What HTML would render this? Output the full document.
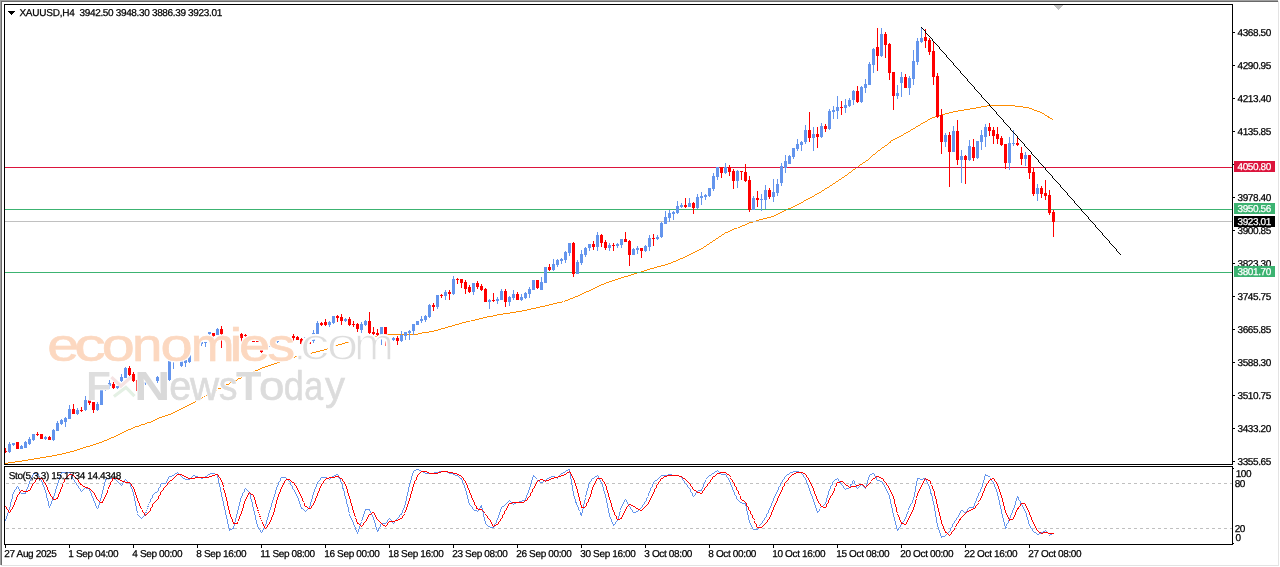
<!DOCTYPE html>
<html><head><meta charset="utf-8"><title>XAUUSD,H4</title>
<style>
html,body{margin:0;padding:0;background:#fff;}
body{width:1280px;height:567px;position:relative;overflow:hidden;font-family:"Liberation Sans",sans-serif;}
svg{position:absolute;left:0;top:0;}
.t{position:absolute;-webkit-text-stroke:0.25px #000;text-rendering:geometricPrecision;font-size:10px;line-height:11px;color:#000;white-space:pre;letter-spacing:-0.4px;}
.pl{position:absolute;-webkit-text-stroke:0.25px #fff;text-rendering:geometricPrecision;left:1234px;width:41px;height:11px;color:#fff;font-size:10px;line-height:11px;letter-spacing:-0.4px;white-space:pre;}
.pl span{position:absolute;left:3.5px;top:1px;}
.wm{position:absolute;white-space:pre;}
</style></head><body>

<svg width="1280" height="567" viewBox="0 0 1280 567" shape-rendering="crispEdges">
<rect x="0" y="0" width="1278" height="1" fill="#a0a0a0"/>
<rect x="0" y="0" width="1" height="565" fill="#a0a0a0"/>
<rect x="1" y="1" width="1277" height="1" fill="#696969"/>
<rect x="1" y="1" width="1" height="564" fill="#696969"/>
<rect x="1278" y="1" width="1" height="565" fill="#e3e3e3"/>
<rect x="1" y="565" width="1278" height="1" fill="#e3e3e3"/>
<rect x="4" y="4" width="1229" height="1" fill="#000"/>
<rect x="4" y="464" width="1229" height="1" fill="#000"/>
<rect x="4" y="4" width="1" height="461" fill="#000"/>
<rect x="1232" y="4" width="1" height="461" fill="#000"/>
<rect x="4" y="466" width="1229" height="1" fill="#000"/>
<rect x="4" y="544" width="1229" height="1" fill="#000"/>
<rect x="4" y="466" width="1" height="79" fill="#000"/>
<rect x="1232" y="466" width="1" height="79" fill="#000"/>
<rect x="1054" y="5" width="9" height="1" fill="#c0c0c0"/>
<rect x="1055" y="6" width="7" height="1" fill="#c0c0c0"/>
<rect x="1056" y="7" width="5" height="1" fill="#c0c0c0"/>
<rect x="1057" y="8" width="3" height="1" fill="#c0c0c0"/>
<rect x="1058" y="9" width="1" height="1" fill="#c0c0c0"/>
<rect x="1233" y="32" width="2" height="1" fill="#000"/>
<rect x="1233" y="65" width="2" height="1" fill="#000"/>
<rect x="1233" y="98" width="2" height="1" fill="#000"/>
<rect x="1233" y="131" width="2" height="1" fill="#000"/>
<rect x="1233" y="164" width="2" height="1" fill="#000"/>
<rect x="1233" y="197" width="2" height="1" fill="#000"/>
<rect x="1233" y="230" width="2" height="1" fill="#000"/>
<rect x="1233" y="263" width="2" height="1" fill="#000"/>
<rect x="1233" y="296" width="2" height="1" fill="#000"/>
<rect x="1233" y="329" width="2" height="1" fill="#000"/>
<rect x="1233" y="362" width="2" height="1" fill="#000"/>
<rect x="1233" y="395" width="2" height="1" fill="#000"/>
<rect x="1233" y="428" width="2" height="1" fill="#000"/>
<rect x="1233" y="461" width="2" height="1" fill="#000"/>
<rect x="1233" y="468" width="1" height="1" fill="#000"/>
<rect x="1233" y="543" width="1" height="1" fill="#000"/>
<rect x="5" y="545" width="1" height="3" fill="#000"/>
<rect x="69" y="545" width="1" height="3" fill="#000"/>
<rect x="133" y="545" width="1" height="3" fill="#000"/>
<rect x="197" y="545" width="1" height="3" fill="#000"/>
<rect x="261" y="545" width="1" height="3" fill="#000"/>
<rect x="325" y="545" width="1" height="3" fill="#000"/>
<rect x="389" y="545" width="1" height="3" fill="#000"/>
<rect x="453" y="545" width="1" height="3" fill="#000"/>
<rect x="517" y="545" width="1" height="3" fill="#000"/>
<rect x="581" y="545" width="1" height="3" fill="#000"/>
<rect x="645" y="545" width="1" height="3" fill="#000"/>
<rect x="709" y="545" width="1" height="3" fill="#000"/>
<rect x="773" y="545" width="1" height="3" fill="#000"/>
<rect x="837" y="545" width="1" height="3" fill="#000"/>
<rect x="901" y="545" width="1" height="3" fill="#000"/>
<rect x="965" y="545" width="1" height="3" fill="#000"/>
<rect x="1029" y="545" width="1" height="3" fill="#000"/>
<path d="M5 463h1v1h-1zM6 463h1v1h-1zM7 463h1v1h-1zM8 462h1v1h-1zM9 462h1v1h-1zM10 462h1v1h-1zM11 462h1v1h-1zM12 462h1v1h-1zM13 462h1v1h-1zM14 462h1v1h-1zM15 461h1v1h-1zM16 461h1v1h-1zM17 461h1v1h-1zM18 461h1v1h-1zM19 461h1v1h-1zM20 461h1v1h-1zM21 461h1v1h-1zM22 460h1v1h-1zM23 460h1v1h-1zM24 460h1v1h-1zM25 460h1v1h-1zM26 460h1v1h-1zM27 460h1v1h-1zM28 459h1v1h-1zM29 459h1v1h-1zM30 459h1v1h-1zM31 459h1v1h-1zM32 459h1v1h-1zM33 459h1v1h-1zM34 458h1v1h-1zM35 458h1v1h-1zM36 458h1v1h-1zM37 458h1v1h-1zM38 458h1v1h-1zM39 458h1v1h-1zM40 457h1v1h-1zM41 457h1v1h-1zM42 457h1v1h-1zM43 457h1v1h-1zM44 457h1v1h-1zM45 457h1v1h-1zM46 456h1v1h-1zM47 456h1v1h-1zM48 456h1v1h-1zM49 456h1v1h-1zM50 456h1v1h-1zM51 456h1v1h-1zM52 455h1v1h-1zM53 455h1v1h-1zM54 455h1v1h-1zM55 455h1v1h-1zM56 455h1v1h-1zM57 454h1v1h-1zM58 454h1v1h-1zM59 454h1v1h-1zM60 454h1v1h-1zM61 454h1v1h-1zM62 453h1v1h-1zM63 453h1v1h-1zM64 453h1v1h-1zM65 453h1v1h-1zM66 452h1v1h-1zM67 452h1v1h-1zM68 452h1v1h-1zM69 452h1v1h-1zM70 451h1v1h-1zM71 451h1v1h-1zM72 451h1v1h-1zM73 451h1v1h-1zM74 450h1v1h-1zM75 450h1v1h-1zM76 450h1v1h-1zM77 449h1v1h-1zM78 449h1v1h-1zM79 449h1v1h-1zM80 448h1v1h-1zM81 448h1v1h-1zM82 448h1v1h-1zM83 447h1v1h-1zM84 447h1v1h-1zM85 447h1v1h-1zM86 446h1v1h-1zM87 446h1v1h-1zM88 446h1v1h-1zM89 446h1v1h-1zM90 445h1v1h-1zM91 445h1v1h-1zM92 445h1v1h-1zM93 444h1v1h-1zM94 444h1v1h-1zM95 444h1v1h-1zM96 443h1v1h-1zM97 443h1v1h-1zM98 443h1v1h-1zM99 442h1v1h-1zM100 442h1v1h-1zM101 442h1v1h-1zM102 441h1v1h-1zM103 441h1v1h-1zM104 440h1v1h-1zM105 440h1v1h-1zM106 440h1v1h-1zM107 439h1v1h-1zM108 439h1v1h-1zM109 438h1v1h-1zM110 438h1v1h-1zM111 437h1v1h-1zM112 437h1v1h-1zM113 437h1v1h-1zM114 436h1v1h-1zM115 436h1v1h-1zM116 435h1v1h-1zM117 435h1v1h-1zM118 434h1v1h-1zM119 434h1v1h-1zM120 433h1v1h-1zM121 433h1v1h-1zM122 432h1v1h-1zM123 432h1v1h-1zM124 431h1v1h-1zM125 431h1v1h-1zM126 430h1v1h-1zM127 430h1v1h-1zM128 429h1v1h-1zM129 429h1v1h-1zM130 429h1v1h-1zM131 428h1v1h-1zM132 428h1v1h-1zM133 427h1v1h-1zM134 427h1v1h-1zM135 426h1v1h-1zM136 426h1v1h-1zM137 426h1v1h-1zM138 426h1v1h-1zM139 425h1v1h-1zM140 425h1v1h-1zM141 424h1v1h-1zM142 424h1v1h-1zM143 424h1v1h-1zM144 424h1v1h-1zM145 423h1v1h-1zM146 423h1v1h-1zM147 422h1v1h-1zM148 422h1v1h-1zM149 422h1v1h-1zM150 422h1v1h-1zM151 421h1v1h-1zM152 421h1v1h-1zM153 420h1v1h-1zM154 420h1v1h-1zM155 419h1v1h-1zM156 419h1v1h-1zM157 418h1v1h-1zM158 418h1v1h-1zM159 417h1v1h-1zM160 417h1v1h-1zM161 417h1v1h-1zM162 416h1v1h-1zM163 416h1v1h-1zM164 416h1v1h-1zM165 415h1v1h-1zM166 415h1v1h-1zM167 415h1v1h-1zM168 414h1v1h-1zM169 414h1v1h-1zM170 414h1v1h-1zM171 413h1v1h-1zM172 413h1v1h-1zM173 412h1v1h-1zM174 412h1v1h-1zM175 411h1v1h-1zM176 411h1v1h-1zM177 410h1v1h-1zM178 410h1v1h-1zM179 409h1v1h-1zM180 409h1v1h-1zM181 408h1v1h-1zM182 408h1v1h-1zM183 407h1v1h-1zM184 407h1v1h-1zM185 406h1v1h-1zM186 406h1v1h-1zM187 405h1v1h-1zM188 405h1v1h-1zM189 404h1v1h-1zM190 404h1v1h-1zM191 403h1v1h-1zM192 403h1v1h-1zM193 402h1v1h-1zM194 402h1v1h-1zM195 401h1v1h-1zM196 400h1v1h-1zM197 400h1v1h-1zM198 399h1v1h-1zM199 399h1v1h-1zM200 398h1v1h-1zM201 398h1v1h-1zM202 397h1v1h-1zM204 396h1v1h-1zM206 395h1v1h-1zM208 394h1v1h-1zM210 392h1v2h-1zM212 391h1v2h-1zM214 390h1v2h-1zM216 389h1v2h-1zM218 388h1v1h-1zM219 388h1v1h-1zM220 388h1v1h-1zM221 387h1v1h-1zM222 386h1v1h-1zM223 386h1v1h-1zM224 386h1v1h-1zM225 385h1v1h-1zM226 384h1v1h-1zM227 384h1v1h-1zM228 384h1v1h-1zM229 383h1v1h-1zM230 382h1v1h-1zM231 382h1v1h-1zM232 382h1v1h-1zM233 381h1v1h-1zM234 380h1v1h-1zM235 380h1v1h-1zM236 380h1v1h-1zM237 379h1v1h-1zM238 378h1v1h-1zM239 378h1v1h-1zM240 378h1v1h-1zM241 377h1v1h-1zM242 376h1v1h-1zM243 376h1v1h-1zM244 376h1v1h-1zM245 375h1v1h-1zM246 375h1v1h-1zM247 374h1v1h-1zM248 374h1v1h-1zM249 373h1v1h-1zM250 373h1v1h-1zM251 372h1v1h-1zM252 372h1v1h-1zM253 371h1v1h-1zM254 371h1v1h-1zM255 370h1v1h-1zM256 370h1v1h-1zM257 370h1v1h-1zM258 369h1v1h-1zM259 369h1v1h-1zM260 368h1v1h-1zM261 368h1v1h-1zM262 367h1v1h-1zM263 367h1v1h-1zM264 367h1v1h-1zM265 366h1v1h-1zM266 366h1v1h-1zM267 366h1v1h-1zM268 365h1v1h-1zM269 365h1v1h-1zM270 365h1v1h-1zM271 364h1v1h-1zM272 364h1v1h-1zM273 364h1v1h-1zM274 363h1v1h-1zM275 363h1v1h-1zM276 363h1v1h-1zM277 362h1v1h-1zM278 362h1v1h-1zM279 362h1v1h-1zM280 361h1v1h-1zM281 361h1v1h-1zM282 361h1v1h-1zM283 360h1v1h-1zM284 360h1v1h-1zM285 360h1v1h-1zM286 359h1v1h-1zM287 359h1v1h-1zM288 359h1v1h-1zM289 358h1v1h-1zM290 358h1v1h-1zM291 358h1v1h-1zM292 357h1v1h-1zM293 357h1v1h-1zM294 357h1v1h-1zM295 356h1v1h-1zM296 356h1v1h-1zM297 356h1v1h-1zM298 356h1v1h-1zM299 355h1v1h-1zM300 355h1v1h-1zM301 355h1v1h-1zM302 355h1v1h-1zM303 354h1v1h-1zM304 354h1v1h-1zM305 354h1v1h-1zM306 354h1v1h-1zM307 354h1v1h-1zM308 353h1v1h-1zM309 353h1v1h-1zM310 353h1v1h-1zM311 353h1v1h-1zM312 352h1v1h-1zM313 352h1v1h-1zM314 352h1v1h-1zM315 352h1v1h-1zM316 351h1v1h-1zM317 351h1v1h-1zM318 351h1v1h-1zM319 351h1v1h-1zM320 350h1v1h-1zM321 350h1v1h-1zM322 350h1v1h-1zM323 350h1v1h-1zM324 349h1v1h-1zM325 349h1v1h-1zM326 349h1v1h-1zM327 348h1v1h-1zM328 348h1v1h-1zM329 348h1v1h-1zM330 347h1v1h-1zM331 347h1v1h-1zM332 346h1v1h-1zM333 346h1v1h-1zM334 346h1v1h-1zM335 345h1v1h-1zM336 345h1v1h-1zM337 345h1v1h-1zM338 344h1v1h-1zM339 344h1v1h-1zM340 344h1v1h-1zM341 344h1v1h-1zM342 343h1v1h-1zM343 343h1v1h-1zM344 343h1v1h-1zM345 342h1v1h-1zM346 342h1v1h-1zM347 342h1v1h-1zM348 342h1v1h-1zM349 341h1v1h-1zM350 341h1v1h-1zM351 341h1v1h-1zM352 341h1v1h-1zM353 340h1v1h-1zM354 340h1v1h-1zM355 340h1v1h-1zM356 340h1v1h-1zM357 339h1v1h-1zM358 339h1v1h-1zM359 339h1v1h-1zM360 339h1v1h-1zM361 339h1v1h-1zM362 338h1v1h-1zM363 338h1v1h-1zM364 338h1v1h-1zM365 338h1v1h-1zM366 337h1v1h-1zM367 337h1v1h-1zM368 337h1v1h-1zM369 337h1v1h-1zM370 336h1v1h-1zM371 336h1v1h-1zM372 336h1v1h-1zM373 336h1v1h-1zM374 336h1v1h-1zM375 336h1v1h-1zM376 336h1v1h-1zM377 335h1v1h-1zM378 335h1v1h-1zM379 335h1v1h-1zM380 335h1v1h-1zM381 335h1v1h-1zM382 335h1v1h-1zM383 335h1v1h-1zM384 334h1v1h-1zM385 334h1v1h-1zM386 334h1v1h-1zM387 334h1v1h-1zM388 334h1v1h-1zM389 334h1v1h-1zM390 334h1v1h-1zM391 334h1v1h-1zM392 334h1v1h-1zM393 334h1v1h-1zM394 334h1v1h-1zM395 334h1v1h-1zM396 334h1v1h-1zM397 334h1v1h-1zM398 334h1v1h-1zM399 334h1v1h-1zM400 334h1v1h-1zM401 334h1v1h-1zM402 334h1v1h-1zM403 334h1v1h-1zM404 334h1v1h-1zM405 334h1v1h-1zM406 334h1v1h-1zM407 334h1v1h-1zM408 334h1v1h-1zM409 334h1v1h-1zM410 334h1v1h-1zM411 334h1v1h-1zM412 334h1v1h-1zM413 334h1v1h-1zM414 334h1v1h-1zM415 334h1v1h-1zM416 334h1v1h-1zM417 334h1v1h-1zM418 333h1v1h-1zM419 333h1v1h-1zM420 333h1v1h-1zM421 333h1v1h-1zM422 332h1v1h-1zM423 332h1v1h-1zM424 332h1v1h-1zM425 332h1v1h-1zM426 332h1v1h-1zM427 332h1v1h-1zM428 332h1v1h-1zM429 331h1v1h-1zM430 331h1v1h-1zM431 331h1v1h-1zM432 331h1v1h-1zM433 331h1v1h-1zM434 330h1v1h-1zM435 330h1v1h-1zM436 330h1v1h-1zM437 330h1v1h-1zM438 329h1v1h-1zM439 329h1v1h-1zM440 329h1v1h-1zM441 328h1v1h-1zM442 328h1v1h-1zM443 328h1v1h-1zM444 328h1v1h-1zM445 327h1v1h-1zM446 327h1v1h-1zM447 327h1v1h-1zM448 326h1v1h-1zM449 326h1v1h-1zM450 326h1v1h-1zM451 326h1v1h-1zM452 325h1v1h-1zM453 325h1v1h-1zM454 325h1v1h-1zM455 324h1v1h-1zM456 324h1v1h-1zM457 324h1v1h-1zM458 324h1v1h-1zM459 323h1v1h-1zM460 323h1v1h-1zM461 323h1v1h-1zM462 322h1v1h-1zM463 322h1v1h-1zM464 322h1v1h-1zM465 322h1v1h-1zM466 321h1v1h-1zM467 321h1v1h-1zM468 321h1v1h-1zM469 321h1v1h-1zM471 320h1v1h-1zM472 320h1v1h-1zM473 320h1v1h-1zM474 320h1v1h-1zM475 319h1v1h-1zM476 319h1v1h-1zM477 319h1v1h-1zM478 319h1v1h-1zM479 318h1v1h-1zM480 318h1v1h-1zM481 318h1v1h-1zM482 318h1v1h-1zM483 317h1v1h-1zM484 317h1v1h-1zM485 317h1v1h-1zM486 317h1v1h-1zM487 316h1v1h-1zM488 316h1v1h-1zM489 316h1v1h-1zM490 316h1v1h-1zM491 316h1v1h-1zM492 316h1v1h-1zM493 315h1v1h-1zM494 315h1v1h-1zM495 315h1v1h-1zM496 315h1v1h-1zM497 314h1v1h-1zM498 314h1v1h-1zM499 314h1v1h-1zM500 314h1v1h-1zM501 314h1v1h-1zM502 314h1v1h-1zM503 313h1v1h-1zM504 313h1v1h-1zM505 313h1v1h-1zM506 313h1v1h-1zM507 313h1v1h-1zM508 313h1v1h-1zM509 313h1v1h-1zM510 312h1v1h-1zM511 312h1v1h-1zM512 312h1v1h-1zM513 312h1v1h-1zM514 312h1v1h-1zM515 312h1v1h-1zM516 311h1v1h-1zM517 311h1v1h-1zM518 311h1v1h-1zM519 311h1v1h-1zM520 311h1v1h-1zM521 311h1v1h-1zM522 310h1v1h-1zM523 310h1v1h-1zM524 310h1v1h-1zM525 310h1v1h-1zM526 310h1v1h-1zM527 309h1v1h-1zM528 309h1v1h-1zM529 309h1v1h-1zM530 309h1v1h-1zM531 308h1v1h-1zM532 308h1v1h-1zM533 308h1v1h-1zM534 308h1v1h-1zM535 308h1v1h-1zM536 307h1v1h-1zM537 307h1v1h-1zM538 307h1v1h-1zM539 307h1v1h-1zM540 306h1v1h-1zM541 306h1v1h-1zM542 306h1v1h-1zM543 306h1v1h-1zM544 306h1v1h-1zM545 305h1v1h-1zM546 305h1v1h-1zM547 305h1v1h-1zM548 305h1v1h-1zM549 304h1v1h-1zM550 304h1v1h-1zM551 304h1v1h-1zM552 304h1v1h-1zM553 303h1v1h-1zM554 303h1v1h-1zM555 303h1v1h-1zM556 303h1v1h-1zM557 302h1v1h-1zM558 302h1v1h-1zM559 302h1v1h-1zM560 302h1v1h-1zM561 302h1v1h-1zM562 301h1v1h-1zM564 301h1v1h-1zM565 300h1v1h-1zM566 300h1v1h-1zM567 300h1v1h-1zM568 299h1v1h-1zM569 299h1v1h-1zM570 298h1v1h-1zM571 298h1v1h-1zM572 298h1v1h-1zM573 297h1v1h-1zM574 297h1v1h-1zM575 296h1v1h-1zM576 296h1v1h-1zM577 296h1v1h-1zM578 295h1v1h-1zM579 295h1v1h-1zM580 294h1v1h-1zM581 294h1v1h-1zM582 293h1v1h-1zM583 293h1v1h-1zM584 292h1v1h-1zM585 292h1v1h-1zM586 291h1v1h-1zM587 291h1v1h-1zM588 291h1v1h-1zM589 290h1v1h-1zM590 290h1v1h-1zM591 289h1v1h-1zM592 289h1v1h-1zM593 288h1v1h-1zM594 288h1v1h-1zM595 287h1v1h-1zM596 287h1v1h-1zM597 286h1v1h-1zM598 286h1v1h-1zM599 285h1v1h-1zM600 285h1v1h-1zM601 284h1v1h-1zM602 284h1v1h-1zM603 284h1v1h-1zM604 283h1v1h-1zM605 283h1v1h-1zM606 282h1v1h-1zM607 282h1v1h-1zM608 282h1v1h-1zM609 281h1v1h-1zM610 281h1v1h-1zM611 281h1v1h-1zM612 280h1v1h-1zM613 280h1v1h-1zM614 280h1v1h-1zM615 279h1v1h-1zM616 279h1v1h-1zM617 279h1v1h-1zM618 278h1v1h-1zM619 278h1v1h-1zM620 278h1v1h-1zM621 277h1v1h-1zM622 277h1v1h-1zM623 277h1v1h-1zM624 276h1v1h-1zM625 276h1v1h-1zM626 276h1v1h-1zM627 276h1v1h-1zM628 275h1v1h-1zM629 275h1v1h-1zM630 275h1v1h-1zM631 274h1v1h-1zM632 274h1v1h-1zM633 274h1v1h-1zM634 273h1v1h-1zM635 273h1v1h-1zM636 273h1v1h-1zM637 272h1v1h-1zM638 272h1v1h-1zM639 272h1v1h-1zM640 272h1v1h-1zM641 271h1v1h-1zM642 271h1v1h-1zM643 271h1v1h-1zM644 270h1v1h-1zM645 270h1v1h-1zM646 270h1v1h-1zM647 269h1v1h-1zM648 269h1v1h-1zM649 269h1v1h-1zM650 268h1v1h-1zM651 268h1v1h-1zM652 268h1v1h-1zM653 268h1v1h-1zM654 267h1v1h-1zM655 267h1v1h-1zM656 267h1v1h-1zM657 266h1v1h-1zM658 266h1v1h-1zM659 266h1v1h-1zM660 266h1v1h-1zM661 265h1v1h-1zM662 265h1v1h-1zM663 265h1v1h-1zM664 265h1v1h-1zM665 264h1v1h-1zM666 264h1v1h-1zM667 264h1v1h-1zM668 263h1v1h-1zM669 263h1v1h-1zM670 263h1v1h-1zM671 262h1v1h-1zM672 262h1v1h-1zM673 261h1v1h-1zM674 261h1v1h-1zM675 261h1v1h-1zM676 260h1v1h-1zM677 260h1v1h-1zM678 259h1v1h-1zM679 259h1v1h-1zM680 258h1v1h-1zM681 258h1v1h-1zM682 258h1v1h-1zM683 257h1v1h-1zM684 257h1v1h-1zM685 256h1v1h-1zM686 256h1v1h-1zM687 255h1v1h-1zM688 255h1v1h-1zM689 254h1v1h-1zM690 254h1v1h-1zM691 253h1v1h-1zM692 253h1v1h-1zM693 252h1v1h-1zM694 252h1v1h-1zM695 251h1v1h-1zM696 251h1v1h-1zM697 250h1v1h-1zM698 250h1v1h-1zM699 249h1v1h-1zM700 249h1v1h-1zM701 248h1v1h-1zM702 248h1v1h-1zM703 247h1v1h-1zM704 246h1v1h-1zM705 246h1v1h-1zM706 245h1v1h-1zM707 244h1v1h-1zM708 244h1v1h-1zM709 243h1v1h-1zM710 242h1v1h-1zM711 242h1v1h-1zM712 241h1v1h-1zM713 240h1v1h-1zM714 240h1v1h-1zM715 239h1v1h-1zM716 238h1v1h-1zM717 238h1v1h-1zM718 237h1v1h-1zM719 236h1v1h-1zM720 236h1v1h-1zM721 235h1v1h-1zM722 234h1v1h-1zM723 234h1v1h-1zM724 233h1v1h-1zM725 232h1v1h-1zM726 232h1v1h-1zM727 232h1v1h-1zM728 231h1v1h-1zM729 231h1v1h-1zM730 230h1v1h-1zM731 230h1v1h-1zM732 229h1v1h-1zM733 229h1v1h-1zM734 228h1v1h-1zM735 228h1v1h-1zM736 228h1v1h-1zM738 227h1v1h-1zM739 227h1v1h-1zM740 226h1v1h-1zM741 226h1v1h-1zM742 225h1v1h-1zM743 225h1v1h-1zM744 225h1v1h-1zM745 224h1v1h-1zM746 224h1v1h-1zM747 223h1v1h-1zM748 223h1v1h-1zM749 222h1v1h-1zM750 222h1v1h-1zM751 222h1v1h-1zM752 222h1v1h-1zM753 221h1v1h-1zM754 221h1v1h-1zM755 221h1v1h-1zM756 220h1v1h-1zM757 220h1v1h-1zM758 220h1v1h-1zM759 219h1v1h-1zM760 219h1v1h-1zM761 219h1v1h-1zM762 219h1v1h-1zM763 218h1v1h-1zM764 218h1v1h-1zM765 218h1v1h-1zM766 218h1v1h-1zM767 217h1v1h-1zM768 217h1v1h-1zM769 217h1v1h-1zM770 217h1v1h-1zM771 216h1v1h-1zM772 216h1v1h-1zM773 216h1v1h-1zM774 215h1v1h-1zM775 215h1v1h-1zM776 214h1v1h-1zM777 214h1v1h-1zM778 213h1v1h-1zM779 213h1v1h-1zM780 212h1v1h-1zM781 212h1v1h-1zM782 211h1v1h-1zM783 211h1v1h-1zM784 210h1v1h-1zM785 210h1v1h-1zM786 209h1v1h-1zM787 209h1v1h-1zM788 208h1v1h-1zM789 208h1v1h-1zM790 208h1v1h-1zM791 207h1v1h-1zM792 207h1v1h-1zM793 206h1v1h-1zM794 206h1v1h-1zM795 205h1v1h-1zM796 205h1v1h-1zM797 204h1v1h-1zM798 204h1v1h-1zM799 203h1v1h-1zM800 203h1v1h-1zM801 202h1v1h-1zM802 202h1v1h-1zM803 201h1v1h-1zM804 200h1v1h-1zM805 200h1v1h-1zM806 199h1v1h-1zM807 199h1v1h-1zM808 198h1v1h-1zM809 198h1v1h-1zM810 197h1v1h-1zM811 197h1v1h-1zM812 196h1v1h-1zM813 196h1v1h-1zM814 195h1v1h-1zM815 194h1v1h-1zM816 194h1v1h-1zM817 193h1v1h-1zM818 193h1v1h-1zM819 192h1v1h-1zM820 192h1v1h-1zM821 191h1v1h-1zM822 190h1v1h-1zM823 190h1v1h-1zM824 189h1v1h-1zM825 188h1v1h-1zM826 188h1v1h-1zM827 187h1v1h-1zM828 187h1v1h-1zM829 186h1v1h-1zM830 185h1v1h-1zM831 185h1v1h-1zM832 184h1v1h-1zM833 183h1v1h-1zM834 183h1v1h-1zM835 182h1v1h-1zM836 181h1v1h-1zM837 181h1v1h-1zM838 180h1v1h-1zM839 179h1v1h-1zM840 179h1v1h-1zM841 178h1v1h-1zM842 177h1v1h-1zM843 177h1v1h-1zM844 176h1v1h-1zM845 175h1v1h-1zM846 175h1v1h-1zM847 174h1v1h-1zM848 173h1v1h-1zM849 172h1v1h-1zM850 172h1v1h-1zM851 171h1v1h-1zM852 170h1v1h-1zM853 169h1v1h-1zM854 169h1v1h-1zM855 168h1v1h-1zM856 167h1v1h-1zM857 167h1v1h-1zM858 166h1v1h-1zM859 165h1v1h-1zM860 164h1v1h-1zM861 164h1v1h-1zM862 163h1v1h-1zM863 162h1v1h-1zM864 162h1v1h-1zM865 161h1v1h-1zM866 160h1v1h-1zM867 160h1v1h-1zM868 159h1v1h-1zM869 158h1v1h-1zM870 157h1v1h-1zM871 156h1v1h-1zM872 155h1v1h-1zM873 154h1v1h-1zM874 154h1v1h-1zM875 153h1v1h-1zM876 152h1v1h-1zM877 151h1v1h-1zM878 150h1v1h-1zM879 150h1v1h-1zM880 149h1v1h-1zM881 148h1v1h-1zM882 147h1v1h-1zM883 147h1v1h-1zM884 146h1v1h-1zM885 145h1v1h-1zM886 145h1v1h-1zM887 144h1v1h-1zM888 143h1v1h-1zM889 142h1v1h-1zM890 141h1v2h-1zM891 140h1v1h-1zM892 140h1v1h-1zM893 139h1v1h-1zM894 139h1v1h-1zM895 138h1v1h-1zM896 138h1v1h-1zM897 137h1v1h-1zM898 137h1v1h-1zM899 136h1v1h-1zM900 136h1v1h-1zM901 135h1v1h-1zM902 135h1v1h-1zM903 134h1v1h-1zM904 133h1v1h-1zM905 133h1v1h-1zM906 132h1v1h-1zM907 132h1v1h-1zM908 131h1v1h-1zM909 131h1v1h-1zM910 130h1v1h-1zM911 129h1v1h-1zM912 129h1v1h-1zM913 128h1v1h-1zM914 128h1v1h-1zM915 127h1v1h-1zM916 126h1v1h-1zM917 126h1v1h-1zM918 125h1v1h-1zM919 125h1v1h-1zM920 124h1v1h-1zM921 123h1v1h-1zM922 123h1v1h-1zM923 122h1v1h-1zM924 122h1v1h-1zM925 121h1v1h-1zM926 121h1v1h-1zM927 120h1v1h-1zM928 119h1v1h-1zM929 119h1v1h-1zM930 118h1v1h-1zM931 118h1v1h-1zM932 117h1v1h-1zM933 117h1v1h-1zM934 117h1v1h-1zM935 116h1v1h-1zM936 116h1v1h-1zM937 116h1v1h-1zM938 116h1v1h-1zM939 115h1v1h-1zM940 115h1v1h-1zM941 115h1v1h-1zM942 114h1v1h-1zM943 114h1v1h-1zM944 114h1v1h-1zM945 113h1v1h-1zM946 113h1v1h-1zM947 113h1v1h-1zM948 113h1v1h-1zM949 112h1v1h-1zM950 112h1v1h-1zM951 112h1v1h-1zM952 112h1v1h-1zM953 111h1v1h-1zM954 111h1v1h-1zM955 111h1v1h-1zM956 111h1v1h-1zM957 111h1v1h-1zM958 110h1v1h-1zM959 110h1v1h-1zM960 110h1v1h-1zM961 110h1v1h-1zM962 110h1v1h-1zM963 110h1v1h-1zM964 109h1v1h-1zM965 109h1v1h-1zM966 109h1v1h-1zM967 109h1v1h-1zM968 109h1v1h-1zM969 109h1v1h-1zM970 108h1v1h-1zM971 108h1v1h-1zM972 108h1v1h-1zM973 108h1v1h-1zM974 108h1v1h-1zM975 108h1v1h-1zM976 107h1v1h-1zM977 107h1v1h-1zM978 107h1v1h-1zM979 107h1v1h-1zM980 107h1v1h-1zM981 106h1v1h-1zM982 106h1v1h-1zM983 106h1v1h-1zM984 106h1v1h-1zM985 106h1v1h-1zM986 106h1v1h-1zM987 105h1v1h-1zM988 105h1v1h-1zM989 105h1v1h-1zM990 105h1v1h-1zM991 105h1v1h-1zM992 105h1v1h-1zM993 105h1v1h-1zM994 105h1v1h-1zM995 105h1v1h-1zM996 105h1v1h-1zM997 105h1v1h-1zM998 105h1v1h-1zM999 105h1v1h-1zM1000 105h1v1h-1zM1001 105h1v1h-1zM1002 105h1v1h-1zM1003 105h1v1h-1zM1004 105h1v1h-1zM1005 105h1v1h-1zM1006 105h1v1h-1zM1007 105h1v1h-1zM1008 105h1v1h-1zM1009 105h1v1h-1zM1010 105h1v1h-1zM1011 105h1v1h-1zM1012 105h1v1h-1zM1013 105h1v1h-1zM1014 105h1v1h-1zM1015 106h1v1h-1zM1016 106h1v1h-1zM1017 106h1v1h-1zM1018 106h1v1h-1zM1019 106h1v1h-1zM1020 106h1v1h-1zM1021 106h1v1h-1zM1022 106h1v1h-1zM1023 107h1v1h-1zM1024 107h1v1h-1zM1025 107h1v1h-1zM1026 107h1v1h-1zM1027 107h1v1h-1zM1028 107h1v1h-1zM1029 108h1v1h-1zM1030 108h1v1h-1zM1031 108h1v1h-1zM1032 109h1v1h-1zM1033 109h1v1h-1zM1034 110h1v1h-1zM1035 110h1v1h-1zM1036 110h1v1h-1zM1037 111h1v1h-1zM1038 111h1v1h-1zM1039 111h1v1h-1zM1040 112h1v1h-1zM1041 112h1v1h-1zM1042 113h1v1h-1zM1043 113h1v1h-1zM1044 114h1v1h-1zM1045 115h1v1h-1zM1046 115h1v1h-1zM1047 116h1v1h-1zM1048 116h1v2h-1zM1049 117h1v1h-1zM1050 118h1v1h-1zM1051 118h1v1h-1zM1052 119h1v1h-1z" fill="#ff8c00"/>
<rect x="5" y="167" width="1227" height="1" fill="#dc143c"/>
<rect x="5" y="209" width="1227" height="1" fill="#3cb371"/>
<rect x="5" y="221" width="1227" height="1" fill="#c0c0c0"/>
<rect x="5" y="272" width="1227" height="1" fill="#3cb371"/>
<path d="M6 483.5H1232M6 528.5H1232" stroke="#c0c0c0" stroke-width="1" stroke-dasharray="3 3" fill="none"/>
<rect x="5" y="448" width="1" height="5" fill="#ff0000"/>
<rect x="5" y="451" width="2" height="1" fill="#ff0000"/>
<rect x="9" y="442" width="1" height="11" fill="#6495ed"/>
<rect x="8" y="444" width="3" height="8" fill="#6495ed"/>
<rect x="13" y="443" width="1" height="3" fill="#6495ed"/>
<rect x="12" y="443" width="3" height="2" fill="#6495ed"/>
<rect x="17" y="442" width="1" height="7" fill="#ff0000"/>
<rect x="16" y="442" width="3" height="7" fill="#ff0000"/>
<rect x="21" y="445" width="1" height="4" fill="#6495ed"/>
<rect x="20" y="446" width="3" height="3" fill="#6495ed"/>
<rect x="25" y="441" width="1" height="7" fill="#6495ed"/>
<rect x="24" y="442" width="3" height="6" fill="#6495ed"/>
<rect x="29" y="437" width="1" height="8" fill="#6495ed"/>
<rect x="28" y="439" width="3" height="5" fill="#6495ed"/>
<rect x="33" y="434" width="1" height="7" fill="#6495ed"/>
<rect x="32" y="434" width="3" height="6" fill="#6495ed"/>
<rect x="37" y="432" width="1" height="4" fill="#ff0000"/>
<rect x="36" y="434" width="3" height="1" fill="#ff0000"/>
<rect x="41" y="434" width="1" height="5" fill="#ff0000"/>
<rect x="40" y="434" width="3" height="5" fill="#ff0000"/>
<rect x="45" y="436" width="1" height="4" fill="#6495ed"/>
<rect x="44" y="437" width="3" height="2" fill="#6495ed"/>
<rect x="49" y="436" width="1" height="4" fill="#ff0000"/>
<rect x="48" y="437" width="3" height="3" fill="#ff0000"/>
<rect x="53" y="429" width="1" height="12" fill="#6495ed"/>
<rect x="52" y="430" width="3" height="10" fill="#6495ed"/>
<rect x="57" y="421" width="1" height="10" fill="#6495ed"/>
<rect x="56" y="423" width="3" height="8" fill="#6495ed"/>
<rect x="61" y="419" width="1" height="6" fill="#6495ed"/>
<rect x="60" y="420" width="3" height="4" fill="#6495ed"/>
<rect x="65" y="417" width="1" height="10" fill="#6495ed"/>
<rect x="64" y="418" width="3" height="4" fill="#6495ed"/>
<rect x="69" y="405" width="1" height="14" fill="#6495ed"/>
<rect x="68" y="409" width="3" height="10" fill="#6495ed"/>
<rect x="73" y="404" width="1" height="10" fill="#ff0000"/>
<rect x="72" y="409" width="3" height="5" fill="#ff0000"/>
<rect x="77" y="408" width="1" height="7" fill="#6495ed"/>
<rect x="76" y="410" width="3" height="4" fill="#6495ed"/>
<rect x="81" y="407" width="1" height="5" fill="#ff0000"/>
<rect x="80" y="410" width="3" height="1" fill="#ff0000"/>
<rect x="85" y="396" width="1" height="15" fill="#6495ed"/>
<rect x="84" y="400" width="3" height="10" fill="#6495ed"/>
<rect x="89" y="399" width="1" height="6" fill="#ff0000"/>
<rect x="88" y="400" width="3" height="3" fill="#ff0000"/>
<rect x="93" y="402" width="1" height="11" fill="#ff0000"/>
<rect x="92" y="402" width="3" height="8" fill="#ff0000"/>
<rect x="97" y="402" width="1" height="9" fill="#6495ed"/>
<rect x="96" y="404" width="3" height="6" fill="#6495ed"/>
<rect x="101" y="388" width="1" height="17" fill="#6495ed"/>
<rect x="100" y="388" width="3" height="17" fill="#6495ed"/>
<rect x="105" y="387" width="1" height="4" fill="#6495ed"/>
<rect x="104" y="388" width="3" height="2" fill="#6495ed"/>
<rect x="109" y="380" width="1" height="9" fill="#6495ed"/>
<rect x="108" y="383" width="3" height="3" fill="#6495ed"/>
<rect x="113" y="382" width="1" height="7" fill="#ff0000"/>
<rect x="112" y="384" width="3" height="4" fill="#ff0000"/>
<rect x="117" y="386" width="1" height="3" fill="#6495ed"/>
<rect x="116" y="386" width="3" height="2" fill="#6495ed"/>
<rect x="121" y="374" width="1" height="8" fill="#6495ed"/>
<rect x="120" y="377" width="3" height="4" fill="#6495ed"/>
<rect x="125" y="367" width="1" height="11" fill="#6495ed"/>
<rect x="124" y="368" width="3" height="10" fill="#6495ed"/>
<rect x="129" y="366" width="1" height="10" fill="#ff0000"/>
<rect x="128" y="368" width="3" height="7" fill="#ff0000"/>
<rect x="133" y="372" width="1" height="10" fill="#ff0000"/>
<rect x="132" y="374" width="3" height="7" fill="#ff0000"/>
<rect x="137" y="378" width="1" height="19" fill="#ff0000"/>
<rect x="136" y="380" width="3" height="11" fill="#ff0000"/>
<rect x="145" y="378" width="1" height="7" fill="#6495ed"/>
<rect x="144" y="379" width="3" height="5" fill="#6495ed"/>
<rect x="149" y="382" width="1" height="5" fill="#ff0000"/>
<rect x="148" y="384" width="3" height="2" fill="#ff0000"/>
<rect x="157" y="376" width="1" height="7" fill="#6495ed"/>
<rect x="156" y="377" width="3" height="4" fill="#6495ed"/>
<rect x="161" y="375" width="1" height="4" fill="#6495ed"/>
<rect x="160" y="375" width="3" height="3" fill="#6495ed"/>
<rect x="169" y="356" width="1" height="25" fill="#6495ed"/>
<rect x="168" y="356" width="3" height="24" fill="#6495ed"/>
<rect x="173" y="357" width="1" height="12" fill="#6495ed"/>
<rect x="172" y="358" width="3" height="3" fill="#6495ed"/>
<rect x="181" y="357" width="1" height="10" fill="#6495ed"/>
<rect x="180" y="358" width="3" height="8" fill="#6495ed"/>
<rect x="185" y="357" width="1" height="10" fill="#6495ed"/>
<rect x="184" y="360" width="3" height="3" fill="#6495ed"/>
<rect x="189" y="354" width="1" height="9" fill="#6495ed"/>
<rect x="188" y="355" width="3" height="7" fill="#6495ed"/>
<rect x="201" y="342" width="1" height="4" fill="#6495ed"/>
<rect x="200" y="342" width="3" height="2" fill="#6495ed"/>
<rect x="205" y="342" width="1" height="5" fill="#6495ed"/>
<rect x="204" y="342" width="3" height="1" fill="#6495ed"/>
<rect x="209" y="332" width="1" height="3" fill="#6495ed"/>
<rect x="208" y="332" width="3" height="2" fill="#6495ed"/>
<rect x="213" y="333" width="1" height="4" fill="#ff0000"/>
<rect x="212" y="333" width="3" height="3" fill="#ff0000"/>
<rect x="217" y="328" width="1" height="7" fill="#6495ed"/>
<rect x="216" y="329" width="3" height="6" fill="#6495ed"/>
<rect x="221" y="326" width="1" height="22" fill="#ff0000"/>
<rect x="220" y="329" width="3" height="5" fill="#ff0000"/>
<rect x="241" y="333" width="1" height="9" fill="#ff0000"/>
<rect x="240" y="334" width="3" height="4" fill="#ff0000"/>
<rect x="245" y="334" width="1" height="4" fill="#ff0000"/>
<rect x="244" y="335" width="3" height="1" fill="#ff0000"/>
<rect x="253" y="341" width="1" height="1" fill="#ff0000"/>
<rect x="252" y="341" width="3" height="1" fill="#ff0000"/>
<rect x="257" y="341" width="1" height="1" fill="#ff0000"/>
<rect x="256" y="341" width="3" height="1" fill="#ff0000"/>
<rect x="261" y="350" width="1" height="3" fill="#ff0000"/>
<rect x="260" y="350" width="3" height="2" fill="#ff0000"/>
<rect x="269" y="346" width="1" height="1" fill="#6495ed"/>
<rect x="268" y="346" width="3" height="1" fill="#6495ed"/>
<rect x="277" y="341" width="1" height="2" fill="#6495ed"/>
<rect x="276" y="341" width="3" height="1" fill="#6495ed"/>
<rect x="289" y="339" width="1" height="4" fill="#6495ed"/>
<rect x="288" y="340" width="3" height="3" fill="#6495ed"/>
<rect x="293" y="334" width="1" height="7" fill="#ff0000"/>
<rect x="292" y="336" width="3" height="2" fill="#ff0000"/>
<rect x="297" y="336" width="1" height="4" fill="#ff0000"/>
<rect x="296" y="337" width="3" height="3" fill="#ff0000"/>
<rect x="301" y="338" width="1" height="7" fill="#ff0000"/>
<rect x="300" y="339" width="3" height="5" fill="#ff0000"/>
<rect x="305" y="337" width="1" height="3" fill="#6495ed"/>
<rect x="304" y="337" width="3" height="2" fill="#6495ed"/>
<rect x="309" y="342" width="1" height="2" fill="#ff0000"/>
<rect x="308" y="342" width="3" height="2" fill="#ff0000"/>
<rect x="313" y="330" width="1" height="13" fill="#6495ed"/>
<rect x="312" y="333" width="3" height="8" fill="#6495ed"/>
<rect x="317" y="321" width="1" height="13" fill="#6495ed"/>
<rect x="316" y="323" width="3" height="11" fill="#6495ed"/>
<rect x="321" y="322" width="1" height="4" fill="#ff0000"/>
<rect x="320" y="323" width="3" height="2" fill="#ff0000"/>
<rect x="325" y="319" width="1" height="7" fill="#ff0000"/>
<rect x="324" y="322" width="3" height="3" fill="#ff0000"/>
<rect x="329" y="321" width="1" height="6" fill="#6495ed"/>
<rect x="328" y="322" width="3" height="3" fill="#6495ed"/>
<rect x="333" y="316" width="1" height="8" fill="#6495ed"/>
<rect x="332" y="316" width="3" height="7" fill="#6495ed"/>
<rect x="337" y="315" width="1" height="7" fill="#ff0000"/>
<rect x="336" y="316" width="3" height="2" fill="#ff0000"/>
<rect x="341" y="314" width="1" height="11" fill="#ff0000"/>
<rect x="340" y="317" width="3" height="4" fill="#ff0000"/>
<rect x="345" y="318" width="1" height="4" fill="#6495ed"/>
<rect x="344" y="319" width="3" height="2" fill="#6495ed"/>
<rect x="349" y="317" width="1" height="9" fill="#ff0000"/>
<rect x="348" y="319" width="3" height="6" fill="#ff0000"/>
<rect x="353" y="321" width="1" height="6" fill="#ff0000"/>
<rect x="352" y="324" width="3" height="1" fill="#ff0000"/>
<rect x="357" y="323" width="1" height="9" fill="#ff0000"/>
<rect x="356" y="324" width="3" height="5" fill="#ff0000"/>
<rect x="361" y="322" width="1" height="11" fill="#6495ed"/>
<rect x="360" y="324" width="3" height="6" fill="#6495ed"/>
<rect x="365" y="320" width="1" height="6" fill="#6495ed"/>
<rect x="364" y="321" width="3" height="4" fill="#6495ed"/>
<rect x="369" y="312" width="1" height="22" fill="#ff0000"/>
<rect x="368" y="321" width="3" height="12" fill="#ff0000"/>
<rect x="373" y="327" width="1" height="9" fill="#ff0000"/>
<rect x="372" y="332" width="3" height="2" fill="#ff0000"/>
<rect x="377" y="329" width="1" height="7" fill="#ff0000"/>
<rect x="376" y="333" width="3" height="2" fill="#ff0000"/>
<rect x="381" y="327" width="1" height="18" fill="#6495ed"/>
<rect x="380" y="327" width="3" height="8" fill="#6495ed"/>
<rect x="385" y="327" width="1" height="19" fill="#ff0000"/>
<rect x="384" y="327" width="3" height="8" fill="#ff0000"/>
<rect x="389" y="338" width="1" height="4" fill="#6495ed"/>
<rect x="388" y="339" width="3" height="2" fill="#6495ed"/>
<rect x="393" y="337" width="1" height="4" fill="#6495ed"/>
<rect x="392" y="338" width="3" height="2" fill="#6495ed"/>
<rect x="397" y="336" width="1" height="9" fill="#ff0000"/>
<rect x="396" y="338" width="3" height="3" fill="#ff0000"/>
<rect x="401" y="331" width="1" height="11" fill="#6495ed"/>
<rect x="400" y="335" width="3" height="6" fill="#6495ed"/>
<rect x="405" y="332" width="1" height="8" fill="#6495ed"/>
<rect x="404" y="332" width="3" height="4" fill="#6495ed"/>
<rect x="409" y="330" width="1" height="10" fill="#6495ed"/>
<rect x="408" y="331" width="3" height="2" fill="#6495ed"/>
<rect x="413" y="324" width="1" height="11" fill="#6495ed"/>
<rect x="412" y="324" width="3" height="7" fill="#6495ed"/>
<rect x="417" y="321" width="1" height="4" fill="#6495ed"/>
<rect x="416" y="321" width="3" height="4" fill="#6495ed"/>
<rect x="421" y="316" width="1" height="7" fill="#6495ed"/>
<rect x="420" y="319" width="3" height="2" fill="#6495ed"/>
<rect x="425" y="315" width="1" height="7" fill="#6495ed"/>
<rect x="424" y="316" width="3" height="4" fill="#6495ed"/>
<rect x="429" y="304" width="1" height="14" fill="#6495ed"/>
<rect x="428" y="305" width="3" height="12" fill="#6495ed"/>
<rect x="433" y="303" width="1" height="8" fill="#ff0000"/>
<rect x="432" y="305" width="3" height="2" fill="#ff0000"/>
<rect x="437" y="295" width="1" height="14" fill="#6495ed"/>
<rect x="436" y="295" width="3" height="12" fill="#6495ed"/>
<rect x="441" y="294" width="1" height="4" fill="#ff0000"/>
<rect x="440" y="295" width="3" height="1" fill="#ff0000"/>
<rect x="445" y="290" width="1" height="10" fill="#6495ed"/>
<rect x="444" y="292" width="3" height="4" fill="#6495ed"/>
<rect x="449" y="290" width="1" height="10" fill="#ff0000"/>
<rect x="448" y="292" width="3" height="2" fill="#ff0000"/>
<rect x="453" y="276" width="1" height="19" fill="#6495ed"/>
<rect x="452" y="279" width="3" height="15" fill="#6495ed"/>
<rect x="457" y="278" width="1" height="6" fill="#ff0000"/>
<rect x="456" y="279" width="3" height="1" fill="#ff0000"/>
<rect x="461" y="279" width="1" height="9" fill="#ff0000"/>
<rect x="460" y="279" width="3" height="4" fill="#ff0000"/>
<rect x="465" y="280" width="1" height="14" fill="#ff0000"/>
<rect x="464" y="282" width="3" height="7" fill="#ff0000"/>
<rect x="469" y="285" width="1" height="8" fill="#ff0000"/>
<rect x="468" y="287" width="3" height="5" fill="#ff0000"/>
<rect x="473" y="283" width="1" height="12" fill="#6495ed"/>
<rect x="472" y="283" width="3" height="9" fill="#6495ed"/>
<rect x="477" y="281" width="1" height="8" fill="#ff0000"/>
<rect x="476" y="283" width="3" height="4" fill="#ff0000"/>
<rect x="481" y="284" width="1" height="7" fill="#ff0000"/>
<rect x="480" y="286" width="3" height="4" fill="#ff0000"/>
<rect x="485" y="288" width="1" height="14" fill="#ff0000"/>
<rect x="484" y="289" width="3" height="13" fill="#ff0000"/>
<rect x="489" y="299" width="1" height="10" fill="#6495ed"/>
<rect x="488" y="300" width="3" height="2" fill="#6495ed"/>
<rect x="493" y="293" width="1" height="9" fill="#ff0000"/>
<rect x="492" y="300" width="3" height="1" fill="#ff0000"/>
<rect x="497" y="297" width="1" height="7" fill="#6495ed"/>
<rect x="496" y="299" width="3" height="2" fill="#6495ed"/>
<rect x="501" y="289" width="1" height="11" fill="#6495ed"/>
<rect x="500" y="291" width="3" height="9" fill="#6495ed"/>
<rect x="505" y="289" width="1" height="18" fill="#ff0000"/>
<rect x="504" y="291" width="3" height="11" fill="#ff0000"/>
<rect x="509" y="296" width="1" height="10" fill="#6495ed"/>
<rect x="508" y="297" width="3" height="5" fill="#6495ed"/>
<rect x="513" y="290" width="1" height="10" fill="#6495ed"/>
<rect x="512" y="294" width="3" height="4" fill="#6495ed"/>
<rect x="517" y="292" width="1" height="8" fill="#ff0000"/>
<rect x="516" y="294" width="3" height="6" fill="#ff0000"/>
<rect x="521" y="294" width="1" height="7" fill="#6495ed"/>
<rect x="520" y="297" width="3" height="3" fill="#6495ed"/>
<rect x="525" y="292" width="1" height="7" fill="#6495ed"/>
<rect x="524" y="293" width="3" height="5" fill="#6495ed"/>
<rect x="529" y="287" width="1" height="11" fill="#6495ed"/>
<rect x="528" y="289" width="3" height="5" fill="#6495ed"/>
<rect x="533" y="280" width="1" height="10" fill="#6495ed"/>
<rect x="532" y="280" width="3" height="10" fill="#6495ed"/>
<rect x="537" y="280" width="1" height="9" fill="#ff0000"/>
<rect x="536" y="280" width="3" height="8" fill="#ff0000"/>
<rect x="541" y="277" width="1" height="13" fill="#6495ed"/>
<rect x="540" y="282" width="3" height="8" fill="#6495ed"/>
<rect x="545" y="267" width="1" height="16" fill="#6495ed"/>
<rect x="544" y="267" width="3" height="16" fill="#6495ed"/>
<rect x="549" y="264" width="1" height="7" fill="#ff0000"/>
<rect x="548" y="267" width="3" height="3" fill="#ff0000"/>
<rect x="553" y="259" width="1" height="12" fill="#6495ed"/>
<rect x="552" y="264" width="3" height="6" fill="#6495ed"/>
<rect x="557" y="259" width="1" height="8" fill="#6495ed"/>
<rect x="556" y="260" width="3" height="5" fill="#6495ed"/>
<rect x="561" y="258" width="1" height="6" fill="#6495ed"/>
<rect x="560" y="259" width="3" height="2" fill="#6495ed"/>
<rect x="565" y="251" width="1" height="12" fill="#6495ed"/>
<rect x="564" y="252" width="3" height="8" fill="#6495ed"/>
<rect x="569" y="243" width="1" height="13" fill="#6495ed"/>
<rect x="568" y="243" width="3" height="10" fill="#6495ed"/>
<rect x="573" y="242" width="1" height="35" fill="#ff0000"/>
<rect x="572" y="243" width="3" height="31" fill="#ff0000"/>
<rect x="577" y="260" width="1" height="14" fill="#6495ed"/>
<rect x="576" y="262" width="3" height="12" fill="#6495ed"/>
<rect x="581" y="250" width="1" height="15" fill="#6495ed"/>
<rect x="580" y="254" width="3" height="9" fill="#6495ed"/>
<rect x="585" y="247" width="1" height="10" fill="#6495ed"/>
<rect x="584" y="248" width="3" height="7" fill="#6495ed"/>
<rect x="589" y="244" width="1" height="7" fill="#6495ed"/>
<rect x="588" y="244" width="3" height="4" fill="#6495ed"/>
<rect x="593" y="241" width="1" height="9" fill="#ff0000"/>
<rect x="592" y="244" width="3" height="3" fill="#ff0000"/>
<rect x="597" y="232" width="1" height="19" fill="#6495ed"/>
<rect x="596" y="235" width="3" height="12" fill="#6495ed"/>
<rect x="601" y="234" width="1" height="13" fill="#ff0000"/>
<rect x="600" y="235" width="3" height="8" fill="#ff0000"/>
<rect x="605" y="240" width="1" height="10" fill="#ff0000"/>
<rect x="604" y="242" width="3" height="6" fill="#ff0000"/>
<rect x="609" y="243" width="1" height="8" fill="#6495ed"/>
<rect x="608" y="245" width="3" height="3" fill="#6495ed"/>
<rect x="613" y="243" width="1" height="8" fill="#ff0000"/>
<rect x="612" y="245" width="3" height="1" fill="#ff0000"/>
<rect x="617" y="243" width="1" height="5" fill="#6495ed"/>
<rect x="616" y="244" width="3" height="2" fill="#6495ed"/>
<rect x="621" y="239" width="1" height="9" fill="#6495ed"/>
<rect x="620" y="239" width="3" height="6" fill="#6495ed"/>
<rect x="625" y="232" width="1" height="10" fill="#ff0000"/>
<rect x="624" y="239" width="3" height="3" fill="#ff0000"/>
<rect x="629" y="240" width="1" height="26" fill="#ff0000"/>
<rect x="628" y="241" width="3" height="14" fill="#ff0000"/>
<rect x="633" y="248" width="1" height="7" fill="#6495ed"/>
<rect x="632" y="249" width="3" height="6" fill="#6495ed"/>
<rect x="637" y="246" width="1" height="8" fill="#6495ed"/>
<rect x="636" y="248" width="3" height="2" fill="#6495ed"/>
<rect x="641" y="248" width="1" height="10" fill="#ff0000"/>
<rect x="640" y="248" width="3" height="3" fill="#ff0000"/>
<rect x="645" y="245" width="1" height="7" fill="#6495ed"/>
<rect x="644" y="246" width="3" height="5" fill="#6495ed"/>
<rect x="649" y="235" width="1" height="16" fill="#6495ed"/>
<rect x="648" y="238" width="3" height="9" fill="#6495ed"/>
<rect x="653" y="234" width="1" height="12" fill="#ff0000"/>
<rect x="652" y="238" width="3" height="1" fill="#ff0000"/>
<rect x="657" y="235" width="1" height="5" fill="#6495ed"/>
<rect x="656" y="237" width="3" height="2" fill="#6495ed"/>
<rect x="661" y="222" width="1" height="16" fill="#6495ed"/>
<rect x="660" y="223" width="3" height="14" fill="#6495ed"/>
<rect x="665" y="211" width="1" height="13" fill="#6495ed"/>
<rect x="664" y="217" width="3" height="7" fill="#6495ed"/>
<rect x="669" y="210" width="1" height="12" fill="#6495ed"/>
<rect x="668" y="213" width="3" height="5" fill="#6495ed"/>
<rect x="673" y="211" width="1" height="9" fill="#6495ed"/>
<rect x="672" y="212" width="3" height="2" fill="#6495ed"/>
<rect x="677" y="201" width="1" height="13" fill="#6495ed"/>
<rect x="676" y="206" width="3" height="7" fill="#6495ed"/>
<rect x="681" y="203" width="1" height="5" fill="#6495ed"/>
<rect x="680" y="205" width="3" height="2" fill="#6495ed"/>
<rect x="685" y="198" width="1" height="10" fill="#ff0000"/>
<rect x="684" y="205" width="3" height="2" fill="#ff0000"/>
<rect x="689" y="198" width="1" height="9" fill="#6495ed"/>
<rect x="688" y="203" width="3" height="4" fill="#6495ed"/>
<rect x="693" y="202" width="1" height="12" fill="#ff0000"/>
<rect x="692" y="203" width="3" height="5" fill="#ff0000"/>
<rect x="697" y="194" width="1" height="15" fill="#6495ed"/>
<rect x="696" y="197" width="3" height="11" fill="#6495ed"/>
<rect x="701" y="192" width="1" height="13" fill="#6495ed"/>
<rect x="700" y="196" width="3" height="2" fill="#6495ed"/>
<rect x="705" y="194" width="1" height="6" fill="#6495ed"/>
<rect x="704" y="195" width="3" height="2" fill="#6495ed"/>
<rect x="709" y="188" width="1" height="9" fill="#6495ed"/>
<rect x="708" y="188" width="3" height="8" fill="#6495ed"/>
<rect x="713" y="173" width="1" height="18" fill="#6495ed"/>
<rect x="712" y="176" width="3" height="13" fill="#6495ed"/>
<rect x="717" y="167" width="1" height="13" fill="#6495ed"/>
<rect x="716" y="167" width="3" height="10" fill="#6495ed"/>
<rect x="721" y="167" width="1" height="11" fill="#ff0000"/>
<rect x="720" y="167" width="3" height="6" fill="#ff0000"/>
<rect x="725" y="163" width="1" height="11" fill="#6495ed"/>
<rect x="724" y="167" width="3" height="6" fill="#6495ed"/>
<rect x="729" y="165" width="1" height="11" fill="#ff0000"/>
<rect x="728" y="167" width="3" height="5" fill="#ff0000"/>
<rect x="733" y="169" width="1" height="20" fill="#ff0000"/>
<rect x="732" y="171" width="3" height="10" fill="#ff0000"/>
<rect x="737" y="170" width="1" height="18" fill="#6495ed"/>
<rect x="736" y="171" width="3" height="10" fill="#6495ed"/>
<rect x="741" y="171" width="1" height="9" fill="#ff0000"/>
<rect x="740" y="171" width="3" height="1" fill="#ff0000"/>
<rect x="745" y="164" width="1" height="18" fill="#ff0000"/>
<rect x="744" y="172" width="3" height="9" fill="#ff0000"/>
<rect x="749" y="176" width="1" height="36" fill="#ff0000"/>
<rect x="748" y="180" width="3" height="30" fill="#ff0000"/>
<rect x="753" y="196" width="1" height="14" fill="#6495ed"/>
<rect x="752" y="198" width="3" height="12" fill="#6495ed"/>
<rect x="757" y="191" width="1" height="16" fill="#ff0000"/>
<rect x="756" y="198" width="3" height="2" fill="#ff0000"/>
<rect x="761" y="194" width="1" height="17" fill="#6495ed"/>
<rect x="760" y="199" width="3" height="1" fill="#6495ed"/>
<rect x="765" y="185" width="1" height="24" fill="#6495ed"/>
<rect x="764" y="190" width="3" height="10" fill="#6495ed"/>
<rect x="769" y="188" width="1" height="11" fill="#ff0000"/>
<rect x="768" y="190" width="3" height="7" fill="#ff0000"/>
<rect x="773" y="179" width="1" height="23" fill="#6495ed"/>
<rect x="772" y="192" width="3" height="5" fill="#6495ed"/>
<rect x="777" y="179" width="1" height="17" fill="#6495ed"/>
<rect x="776" y="184" width="3" height="9" fill="#6495ed"/>
<rect x="781" y="163" width="1" height="23" fill="#6495ed"/>
<rect x="780" y="166" width="3" height="17" fill="#6495ed"/>
<rect x="785" y="155" width="1" height="18" fill="#6495ed"/>
<rect x="784" y="161" width="3" height="7" fill="#6495ed"/>
<rect x="789" y="155" width="1" height="9" fill="#6495ed"/>
<rect x="788" y="156" width="3" height="8" fill="#6495ed"/>
<rect x="793" y="148" width="1" height="11" fill="#6495ed"/>
<rect x="792" y="148" width="3" height="9" fill="#6495ed"/>
<rect x="797" y="139" width="1" height="12" fill="#6495ed"/>
<rect x="796" y="144" width="3" height="5" fill="#6495ed"/>
<rect x="801" y="141" width="1" height="10" fill="#6495ed"/>
<rect x="800" y="142" width="3" height="3" fill="#6495ed"/>
<rect x="805" y="125" width="1" height="19" fill="#6495ed"/>
<rect x="804" y="130" width="3" height="12" fill="#6495ed"/>
<rect x="809" y="112" width="1" height="30" fill="#ff0000"/>
<rect x="808" y="130" width="3" height="8" fill="#ff0000"/>
<rect x="813" y="127" width="1" height="24" fill="#6495ed"/>
<rect x="812" y="134" width="3" height="4" fill="#6495ed"/>
<rect x="817" y="127" width="1" height="21" fill="#ff0000"/>
<rect x="816" y="134" width="3" height="3" fill="#ff0000"/>
<rect x="821" y="123" width="1" height="15" fill="#6495ed"/>
<rect x="820" y="126" width="3" height="11" fill="#6495ed"/>
<rect x="825" y="124" width="1" height="8" fill="#ff0000"/>
<rect x="824" y="126" width="3" height="3" fill="#ff0000"/>
<rect x="829" y="109" width="1" height="21" fill="#6495ed"/>
<rect x="828" y="111" width="3" height="18" fill="#6495ed"/>
<rect x="833" y="106" width="1" height="13" fill="#6495ed"/>
<rect x="832" y="110" width="3" height="2" fill="#6495ed"/>
<rect x="837" y="96" width="1" height="23" fill="#6495ed"/>
<rect x="836" y="107" width="3" height="4" fill="#6495ed"/>
<rect x="841" y="101" width="1" height="14" fill="#ff0000"/>
<rect x="840" y="107" width="3" height="1" fill="#ff0000"/>
<rect x="845" y="99" width="1" height="14" fill="#6495ed"/>
<rect x="844" y="105" width="3" height="3" fill="#6495ed"/>
<rect x="849" y="98" width="1" height="9" fill="#6495ed"/>
<rect x="848" y="100" width="3" height="6" fill="#6495ed"/>
<rect x="853" y="90" width="1" height="15" fill="#6495ed"/>
<rect x="852" y="91" width="3" height="9" fill="#6495ed"/>
<rect x="857" y="86" width="1" height="17" fill="#ff0000"/>
<rect x="856" y="91" width="3" height="11" fill="#ff0000"/>
<rect x="861" y="86" width="1" height="17" fill="#6495ed"/>
<rect x="860" y="87" width="3" height="15" fill="#6495ed"/>
<rect x="865" y="79" width="1" height="14" fill="#6495ed"/>
<rect x="864" y="84" width="3" height="4" fill="#6495ed"/>
<rect x="869" y="62" width="1" height="23" fill="#6495ed"/>
<rect x="868" y="64" width="3" height="21" fill="#6495ed"/>
<rect x="873" y="48" width="1" height="25" fill="#6495ed"/>
<rect x="872" y="49" width="3" height="16" fill="#6495ed"/>
<rect x="877" y="28" width="1" height="43" fill="#ff0000"/>
<rect x="876" y="47" width="3" height="9" fill="#ff0000"/>
<rect x="881" y="28" width="1" height="29" fill="#6495ed"/>
<rect x="880" y="34" width="3" height="22" fill="#6495ed"/>
<rect x="885" y="32" width="1" height="26" fill="#ff0000"/>
<rect x="884" y="34" width="3" height="11" fill="#ff0000"/>
<rect x="889" y="43" width="1" height="37" fill="#ff0000"/>
<rect x="888" y="44" width="3" height="29" fill="#ff0000"/>
<rect x="893" y="72" width="1" height="38" fill="#ff0000"/>
<rect x="892" y="72" width="3" height="24" fill="#ff0000"/>
<rect x="897" y="85" width="1" height="14" fill="#6495ed"/>
<rect x="896" y="93" width="3" height="3" fill="#6495ed"/>
<rect x="901" y="72" width="1" height="25" fill="#6495ed"/>
<rect x="900" y="77" width="3" height="6" fill="#6495ed"/>
<rect x="905" y="74" width="1" height="14" fill="#ff0000"/>
<rect x="904" y="77" width="3" height="11" fill="#ff0000"/>
<rect x="909" y="76" width="1" height="19" fill="#6495ed"/>
<rect x="908" y="78" width="3" height="10" fill="#6495ed"/>
<rect x="913" y="50" width="1" height="35" fill="#6495ed"/>
<rect x="912" y="61" width="3" height="18" fill="#6495ed"/>
<rect x="917" y="38" width="1" height="27" fill="#6495ed"/>
<rect x="916" y="41" width="3" height="21" fill="#6495ed"/>
<rect x="921" y="27" width="1" height="16" fill="#6495ed"/>
<rect x="920" y="38" width="3" height="4" fill="#6495ed"/>
<rect x="925" y="29" width="1" height="19" fill="#ff0000"/>
<rect x="924" y="37" width="3" height="4" fill="#ff0000"/>
<rect x="929" y="38" width="1" height="17" fill="#ff0000"/>
<rect x="928" y="40" width="3" height="12" fill="#ff0000"/>
<rect x="933" y="42" width="1" height="43" fill="#ff0000"/>
<rect x="932" y="51" width="3" height="26" fill="#ff0000"/>
<rect x="937" y="73" width="1" height="45" fill="#ff0000"/>
<rect x="936" y="76" width="3" height="41" fill="#ff0000"/>
<rect x="941" y="109" width="1" height="45" fill="#ff0000"/>
<rect x="940" y="115" width="3" height="27" fill="#ff0000"/>
<rect x="945" y="133" width="1" height="14" fill="#6495ed"/>
<rect x="944" y="135" width="3" height="7" fill="#6495ed"/>
<rect x="949" y="132" width="1" height="55" fill="#ff0000"/>
<rect x="948" y="135" width="3" height="17" fill="#ff0000"/>
<rect x="953" y="126" width="1" height="26" fill="#6495ed"/>
<rect x="952" y="131" width="3" height="21" fill="#6495ed"/>
<rect x="957" y="120" width="1" height="45" fill="#ff0000"/>
<rect x="956" y="131" width="3" height="29" fill="#ff0000"/>
<rect x="961" y="150" width="1" height="33" fill="#6495ed"/>
<rect x="960" y="156" width="3" height="4" fill="#6495ed"/>
<rect x="965" y="155" width="1" height="29" fill="#ff0000"/>
<rect x="964" y="156" width="3" height="4" fill="#ff0000"/>
<rect x="969" y="140" width="1" height="21" fill="#6495ed"/>
<rect x="968" y="146" width="3" height="14" fill="#6495ed"/>
<rect x="973" y="139" width="1" height="22" fill="#ff0000"/>
<rect x="972" y="147" width="3" height="11" fill="#ff0000"/>
<rect x="977" y="141" width="1" height="18" fill="#6495ed"/>
<rect x="976" y="141" width="3" height="17" fill="#6495ed"/>
<rect x="981" y="130" width="1" height="20" fill="#6495ed"/>
<rect x="980" y="135" width="3" height="7" fill="#6495ed"/>
<rect x="985" y="124" width="1" height="23" fill="#6495ed"/>
<rect x="984" y="127" width="3" height="10" fill="#6495ed"/>
<rect x="989" y="123" width="1" height="13" fill="#ff0000"/>
<rect x="988" y="127" width="3" height="4" fill="#ff0000"/>
<rect x="993" y="127" width="1" height="17" fill="#ff0000"/>
<rect x="992" y="130" width="3" height="6" fill="#ff0000"/>
<rect x="997" y="127" width="1" height="17" fill="#ff0000"/>
<rect x="996" y="134" width="3" height="5" fill="#ff0000"/>
<rect x="1001" y="136" width="1" height="10" fill="#ff0000"/>
<rect x="1000" y="138" width="3" height="7" fill="#ff0000"/>
<rect x="1005" y="144" width="1" height="25" fill="#ff0000"/>
<rect x="1004" y="144" width="3" height="19" fill="#ff0000"/>
<rect x="1009" y="137" width="1" height="33" fill="#6495ed"/>
<rect x="1008" y="143" width="3" height="20" fill="#6495ed"/>
<rect x="1013" y="130" width="1" height="16" fill="#6495ed"/>
<rect x="1012" y="143" width="3" height="1" fill="#6495ed"/>
<rect x="1017" y="138" width="1" height="8" fill="#ff0000"/>
<rect x="1016" y="143" width="3" height="2" fill="#ff0000"/>
<rect x="1021" y="147" width="1" height="18" fill="#ff0000"/>
<rect x="1020" y="153" width="3" height="6" fill="#ff0000"/>
<rect x="1025" y="152" width="1" height="14" fill="#6495ed"/>
<rect x="1024" y="155" width="3" height="4" fill="#6495ed"/>
<rect x="1029" y="155" width="1" height="24" fill="#ff0000"/>
<rect x="1028" y="155" width="3" height="18" fill="#ff0000"/>
<rect x="1033" y="168" width="1" height="28" fill="#ff0000"/>
<rect x="1032" y="172" width="3" height="22" fill="#ff0000"/>
<rect x="1037" y="184" width="1" height="17" fill="#6495ed"/>
<rect x="1036" y="188" width="3" height="6" fill="#6495ed"/>
<rect x="1041" y="186" width="1" height="12" fill="#ff0000"/>
<rect x="1040" y="188" width="3" height="6" fill="#ff0000"/>
<rect x="1045" y="180" width="1" height="20" fill="#ff0000"/>
<rect x="1044" y="193" width="3" height="3" fill="#ff0000"/>
<rect x="1049" y="190" width="1" height="25" fill="#ff0000"/>
<rect x="1048" y="195" width="3" height="18" fill="#ff0000"/>
<rect x="1053" y="210" width="1" height="27" fill="#ff0000"/>
<rect x="1052" y="212" width="3" height="10" fill="#ff0000"/>
<path d="M921 27h1v1h-1zM922 28h1v1h-1zM923 29h1v1h-1zM924 30h1v1h-1zM925 31h1v1h-1zM925 32h1v1h-1zM926 33h1v1h-1zM927 34h1v1h-1zM928 35h1v1h-1zM929 36h1v1h-1zM930 37h1v1h-1zM931 38h1v1h-1zM932 39h1v1h-1zM932 40h1v1h-1zM933 41h1v1h-1zM934 42h1v1h-1zM935 43h1v1h-1zM936 44h1v1h-1zM937 45h1v1h-1zM938 46h1v1h-1zM939 47h1v1h-1zM939 48h1v1h-1zM940 49h1v1h-1zM941 50h1v1h-1zM942 51h1v1h-1zM943 52h1v1h-1zM944 53h1v1h-1zM945 54h1v1h-1zM946 55h1v1h-1zM946 56h1v1h-1zM947 57h1v1h-1zM948 58h1v1h-1zM949 59h1v1h-1zM950 60h1v1h-1zM951 61h1v1h-1zM952 62h1v1h-1zM953 63h1v1h-1zM953 64h1v1h-1zM954 65h1v1h-1zM955 66h1v1h-1zM956 67h1v1h-1zM957 68h1v1h-1zM958 69h1v1h-1zM959 70h1v1h-1zM960 71h1v1h-1zM960 72h1v1h-1zM961 73h1v1h-1zM962 74h1v1h-1zM963 75h1v1h-1zM964 76h1v1h-1zM965 77h1v1h-1zM966 78h1v1h-1zM967 79h1v1h-1zM967 80h1v1h-1zM968 81h1v1h-1zM969 82h1v1h-1zM970 83h1v1h-1zM971 84h1v1h-1zM972 85h1v1h-1zM973 86h1v1h-1zM974 87h1v1h-1zM974 88h1v1h-1zM975 89h1v1h-1zM976 90h1v1h-1zM977 91h1v1h-1zM978 92h1v1h-1zM979 93h1v1h-1zM980 94h1v1h-1zM981 95h1v1h-1zM981 96h1v1h-1zM982 97h1v1h-1zM983 98h1v1h-1zM984 99h1v1h-1zM985 100h1v1h-1zM986 101h1v1h-1zM987 102h1v1h-1zM988 103h1v1h-1zM989 104h1v1h-1zM989 105h1v1h-1zM990 106h1v1h-1zM991 107h1v1h-1zM992 108h1v1h-1zM993 109h1v1h-1zM994 110h1v1h-1zM995 111h1v1h-1zM996 112h1v1h-1zM996 113h1v1h-1zM997 114h1v1h-1zM998 115h1v1h-1zM999 116h1v1h-1zM1000 117h1v1h-1zM1001 118h1v1h-1zM1002 119h1v1h-1zM1003 120h1v1h-1zM1003 121h1v1h-1zM1004 122h1v1h-1zM1005 123h1v1h-1zM1006 124h1v1h-1zM1007 125h1v1h-1zM1008 126h1v1h-1zM1009 127h1v1h-1zM1010 128h1v1h-1zM1010 129h1v1h-1zM1011 130h1v1h-1zM1012 131h1v1h-1zM1013 132h1v1h-1zM1014 133h1v1h-1zM1015 134h1v1h-1zM1016 135h1v1h-1zM1017 136h1v1h-1zM1017 137h1v1h-1zM1018 138h1v1h-1zM1019 139h1v1h-1zM1020 140h1v1h-1zM1021 141h1v1h-1zM1022 142h1v1h-1zM1023 143h1v1h-1zM1024 144h1v1h-1zM1024 145h1v1h-1zM1025 146h1v1h-1zM1026 147h1v1h-1zM1027 148h1v1h-1zM1028 149h1v1h-1zM1029 150h1v1h-1zM1030 151h1v1h-1zM1031 152h1v1h-1zM1031 153h1v1h-1zM1032 154h1v1h-1zM1033 155h1v1h-1zM1034 156h1v1h-1zM1035 157h1v1h-1zM1036 158h1v1h-1zM1037 159h1v1h-1zM1038 160h1v1h-1zM1038 161h1v1h-1zM1039 162h1v1h-1zM1040 163h1v1h-1zM1041 164h1v1h-1zM1042 165h1v1h-1zM1043 166h1v1h-1zM1044 167h1v1h-1zM1045 168h1v1h-1zM1045 169h1v1h-1zM1046 170h1v1h-1zM1047 171h1v1h-1zM1048 172h1v1h-1zM1049 173h1v1h-1zM1050 174h1v1h-1zM1051 175h1v1h-1zM1052 176h1v1h-1zM1052 177h1v1h-1zM1053 178h1v1h-1zM1054 179h1v1h-1zM1055 180h1v1h-1zM1056 181h1v1h-1zM1057 182h1v1h-1zM1058 183h1v1h-1zM1059 184h1v1h-1zM1060 185h1v1h-1zM1060 186h1v1h-1zM1061 187h1v1h-1zM1062 188h1v1h-1zM1063 189h1v1h-1zM1064 190h1v1h-1zM1065 191h1v1h-1zM1066 192h1v1h-1zM1067 193h1v1h-1zM1067 194h1v1h-1zM1068 195h1v1h-1zM1069 196h1v1h-1zM1070 197h1v1h-1zM1071 198h1v1h-1zM1072 199h1v1h-1zM1073 200h1v1h-1zM1074 201h1v1h-1zM1074 202h1v1h-1zM1075 203h1v1h-1zM1076 204h1v1h-1zM1077 205h1v1h-1zM1078 206h1v1h-1zM1079 207h1v1h-1zM1080 208h1v1h-1zM1081 209h1v1h-1zM1081 210h1v1h-1zM1082 211h1v1h-1zM1083 212h1v1h-1zM1084 213h1v1h-1zM1085 214h1v1h-1zM1086 215h1v1h-1zM1087 216h1v1h-1zM1088 217h1v1h-1zM1088 218h1v1h-1zM1089 219h1v1h-1zM1090 220h1v1h-1zM1091 221h1v1h-1zM1092 222h1v1h-1zM1093 223h1v1h-1zM1094 224h1v1h-1zM1095 225h1v1h-1zM1095 226h1v1h-1zM1096 227h1v1h-1zM1097 228h1v1h-1zM1098 229h1v1h-1zM1099 230h1v1h-1zM1100 231h1v1h-1zM1101 232h1v1h-1zM1102 233h1v1h-1zM1102 234h1v1h-1zM1103 235h1v1h-1zM1104 236h1v1h-1zM1105 237h1v1h-1zM1106 238h1v1h-1zM1107 239h1v1h-1zM1108 240h1v1h-1zM1109 241h1v1h-1zM1109 242h1v1h-1zM1110 243h1v1h-1zM1111 244h1v1h-1zM1112 245h1v1h-1zM1113 246h1v1h-1zM1114 247h1v1h-1zM1115 248h1v1h-1zM1116 249h1v1h-1zM1116 250h1v1h-1zM1117 251h1v1h-1zM1118 252h1v1h-1zM1119 253h1v1h-1zM1120 254h1v1h-1z" fill="#000"/>
<path d="M5 519h1v2h-1zM6 516h1v3h-1zM7 513h1v3h-1zM8 510h1v3h-1zM9 507h1v3h-1zM10 502h1v5h-1zM11 499h1v3h-1zM12 494h1v5h-1zM13 492h1v2h-1zM14 490h1v2h-1zM15 489h1v1h-1zM16 487h1v2h-1zM17 486h1v1h-1zM18 487h1v2h-1zM19 489h1v2h-1zM20 491h1v2h-1zM21 493h1v1h-1zM22 493h1v1h-1zM23 493h1v1h-1zM24 493h1v1h-1zM25 492h1v2h-1zM26 489h1v3h-1zM27 487h1v2h-1zM28 484h1v3h-1zM29 481h1v3h-1zM30 479h1v2h-1zM31 477h1v2h-1zM32 475h1v2h-1zM33 473h1v2h-1zM34 473h1v1h-1zM35 473h1v1h-1zM36 473h1v1h-1zM37 473h1v1h-1zM38 474h1v2h-1zM39 476h1v1h-1zM40 478h1v2h-1zM41 480h1v2h-1zM42 482h1v3h-1zM43 485h1v2h-1zM44 487h1v3h-1zM45 490h1v3h-1zM46 493h1v5h-1zM47 498h1v3h-1zM48 501h1v5h-1zM49 506h1v2h-1zM50 504h1v2h-1zM51 501h1v3h-1zM52 499h1v2h-1zM53 496h1v3h-1zM54 493h1v3h-1zM55 489h1v4h-1zM56 486h1v3h-1zM57 483h1v3h-1zM58 480h1v3h-1zM59 477h1v3h-1zM60 474h1v3h-1zM61 472h1v2h-1zM62 472h1v1h-1zM63 472h1v1h-1zM64 472h1v1h-1zM65 472h1v1h-1zM66 472h1v1h-1zM67 472h1v1h-1zM68 472h1v1h-1zM69 472h1v1h-1zM70 473h1v2h-1zM71 475h1v2h-1zM72 477h1v2h-1zM73 479h1v1h-1zM74 480h1v2h-1zM75 482h1v1h-1zM76 483h1v2h-1zM77 485h1v1h-1zM78 486h1v2h-1zM79 488h1v1h-1zM80 489h1v2h-1zM81 491h1v1h-1zM82 490h1v1h-1zM83 489h1v1h-1zM84 488h1v1h-1zM85 487h1v1h-1zM86 488h1v1h-1zM87 488h1v1h-1zM88 488h1v1h-1zM89 489h1v2h-1zM90 491h1v2h-1zM91 493h1v3h-1zM92 496h1v2h-1zM93 498h1v3h-1zM94 501h1v2h-1zM95 503h1v3h-1zM96 506h1v2h-1zM97 508h1v1h-1zM98 505h1v3h-1zM99 501h1v4h-1zM100 498h1v3h-1zM101 494h1v4h-1zM102 490h1v4h-1zM103 486h1v4h-1zM104 482h1v4h-1zM105 479h1v3h-1zM106 479h1v1h-1zM107 478h1v1h-1zM108 478h1v1h-1zM109 478h1v1h-1zM110 478h1v1h-1zM111 478h1v1h-1zM112 478h1v1h-1zM113 478h1v1h-1zM114 478h1v1h-1zM115 479h1v1h-1zM116 480h1v1h-1zM117 481h1v1h-1zM118 482h1v1h-1zM119 483h1v1h-1zM120 484h1v1h-1zM121 485h1v1h-1zM122 483h1v2h-1zM123 482h1v1h-1zM124 480h1v2h-1zM125 479h1v1h-1zM126 480h1v1h-1zM127 481h1v1h-1zM128 482h1v1h-1zM129 482h1v2h-1zM130 484h1v3h-1zM131 487h1v2h-1zM132 489h1v3h-1zM133 492h1v4h-1zM134 496h1v5h-1zM135 501h1v5h-1zM136 506h1v5h-1zM137 511h1v2h-1zM137 514h1v1h-1zM138 515h1v1h-1zM139 516h1v1h-1zM140 517h1v1h-1zM141 518h1v1h-1zM142 517h1v1h-1zM143 516h1v1h-1zM144 515h1v1h-1zM145 512h1v1h-1zM145 514h1v1h-1zM146 510h1v1h-1zM146 512h1v1h-1zM147 506h1v1h-1zM147 508h1v1h-1zM148 504h1v1h-1zM148 506h1v1h-1zM149 502h1v1h-1zM150 499h1v3h-1zM151 498h1v1h-1zM152 495h1v3h-1zM153 494h1v1h-1zM154 493h1v1h-1zM155 492h1v1h-1zM156 492h1v1h-1zM157 491h1v1h-1zM158 488h1v3h-1zM159 487h1v1h-1zM160 484h1v3h-1zM161 483h1v1h-1zM162 483h1v1h-1zM163 483h1v1h-1zM164 483h1v1h-1zM165 483h1v1h-1zM166 481h1v2h-1zM167 479h1v2h-1zM168 477h1v2h-1zM169 476h1v1h-1zM170 476h1v1h-1zM171 476h1v1h-1zM172 475h1v1h-1zM173 475h1v1h-1zM174 474h1v1h-1zM175 473h1v1h-1zM176 473h1v1h-1zM177 472h1v1h-1zM178 473h1v1h-1zM179 474h1v1h-1zM180 475h1v1h-1zM181 476h1v1h-1zM182 477h1v1h-1zM183 478h1v1h-1zM184 478h1v1h-1zM185 479h1v1h-1zM186 479h1v1h-1zM187 479h1v1h-1zM188 479h1v1h-1zM189 479h1v1h-1zM190 478h1v1h-1zM191 477h1v1h-1zM192 476h1v1h-1zM193 475h1v1h-1zM194 475h1v1h-1zM195 476h1v1h-1zM196 476h1v1h-1zM197 476h1v1h-1zM198 477h1v1h-1zM199 477h1v1h-1zM200 477h1v1h-1zM201 478h1v1h-1zM202 478h1v1h-1zM203 477h1v1h-1zM204 477h1v1h-1zM205 476h1v1h-1zM206 476h1v1h-1zM207 475h1v1h-1zM208 474h1v1h-1zM209 474h1v1h-1zM210 473h1v1h-1zM211 473h1v1h-1zM212 473h1v1h-1zM213 473h1v1h-1zM214 473h1v1h-1zM215 474h1v1h-1zM216 474h1v1h-1zM217 475h1v3h-1zM218 478h1v5h-1zM219 483h1v4h-1zM220 487h1v5h-1zM221 492h1v5h-1zM222 497h1v4h-1zM223 501h1v5h-1zM224 506h1v4h-1zM225 510h1v5h-1zM226 515h1v4h-1zM227 519h1v5h-1zM228 524h1v4h-1zM229 528h1v3h-1zM230 529h1v1h-1zM231 529h1v1h-1zM232 528h1v1h-1zM233 526h1v3h-1zM234 522h1v4h-1zM235 518h1v4h-1zM236 514h1v4h-1zM237 510h1v4h-1zM238 506h1v4h-1zM239 502h1v4h-1zM240 498h1v4h-1zM241 496h1v2h-1zM242 493h1v3h-1zM243 492h1v1h-1zM244 489h1v3h-1zM245 488h1v1h-1zM246 489h1v1h-1zM247 490h1v1h-1zM248 491h1v1h-1zM249 492h1v2h-1zM250 494h1v5h-1zM251 499h1v3h-1zM252 502h1v5h-1zM253 507h1v4h-1zM254 511h1v4h-1zM255 515h1v5h-1zM256 520h1v4h-1zM257 524h1v3h-1zM258 527h1v2h-1zM259 529h1v1h-1zM260 530h1v2h-1zM261 532h1v1h-1zM262 530h1v2h-1zM263 528h1v2h-1zM264 526h1v2h-1zM265 524h1v2h-1zM266 520h1v4h-1zM267 517h1v3h-1zM268 513h1v4h-1zM269 510h1v3h-1zM270 507h1v3h-1zM271 503h1v4h-1zM272 500h1v3h-1zM273 497h1v3h-1zM274 494h1v3h-1zM275 490h1v4h-1zM276 487h1v3h-1zM277 485h1v2h-1zM278 482h1v3h-1zM279 481h1v1h-1zM280 478h1v3h-1zM281 477h1v1h-1zM282 477h1v1h-1zM283 477h1v1h-1zM284 477h1v1h-1zM285 477h1v1h-1zM286 478h1v1h-1zM287 479h1v1h-1zM288 480h1v1h-1zM289 481h1v1h-1zM290 482h1v3h-1zM291 485h1v1h-1zM292 486h1v3h-1zM293 489h1v1h-1zM294 490h1v2h-1zM295 492h1v2h-1zM296 494h1v2h-1zM297 496h1v2h-1zM298 498h1v3h-1zM299 501h1v3h-1zM300 504h1v3h-1zM301 507h1v2h-1zM302 508h1v1h-1zM303 509h1v1h-1zM304 510h1v1h-1zM305 511h1v1h-1zM306 510h1v1h-1zM307 509h1v1h-1zM308 508h1v1h-1zM309 506h1v2h-1zM310 502h1v4h-1zM311 499h1v3h-1zM312 495h1v4h-1zM313 492h1v3h-1zM314 489h1v3h-1zM315 487h1v2h-1zM316 484h1v3h-1zM317 482h1v2h-1zM318 481h1v1h-1zM319 480h1v1h-1zM320 478h1v2h-1zM321 477h1v1h-1zM322 477h1v1h-1zM323 477h1v1h-1zM324 477h1v1h-1zM325 477h1v1h-1zM326 477h1v1h-1zM327 478h1v1h-1zM328 478h1v1h-1zM329 479h1v1h-1zM330 478h1v1h-1zM331 477h1v1h-1zM332 476h1v1h-1zM333 476h1v1h-1zM334 475h1v1h-1zM335 475h1v1h-1zM336 474h1v1h-1zM337 474h1v1h-1zM338 475h1v3h-1zM339 478h1v1h-1zM340 479h1v3h-1zM341 482h1v2h-1zM342 484h1v5h-1zM343 488h1v3h-1zM344 491h1v5h-1zM345 496h1v3h-1zM346 499h1v5h-1zM347 504h1v3h-1zM348 507h1v5h-1zM349 512h1v1h-1zM349 514h1v2h-1zM350 516h1v2h-1zM351 518h1v2h-1zM352 520h1v2h-1zM353 522h1v3h-1zM354 525h1v2h-1zM355 527h1v3h-1zM356 530h1v2h-1zM357 532h1v2h-1zM358 529h1v3h-1zM359 526h1v3h-1zM360 523h1v3h-1zM361 520h1v1h-1zM361 522h1v1h-1zM362 517h1v3h-1zM363 514h1v3h-1zM364 511h1v3h-1zM365 509h1v2h-1zM366 509h1v1h-1zM367 509h1v1h-1zM368 509h1v1h-1zM369 509h1v2h-1zM370 511h1v2h-1zM371 513h1v2h-1zM372 515h1v2h-1zM373 517h1v3h-1zM374 520h1v3h-1zM375 523h1v4h-1zM376 527h1v3h-1zM377 530h1v2h-1zM378 528h1v3h-1zM379 527h1v1h-1zM380 524h1v3h-1zM381 523h1v1h-1zM382 523h1v1h-1zM383 523h1v1h-1zM384 523h1v1h-1zM385 523h1v1h-1zM386 522h1v1h-1zM387 520h1v2h-1zM388 519h1v1h-1zM389 518h1v1h-1zM390 519h1v1h-1zM391 520h1v2h-1zM392 522h1v1h-1zM393 523h1v1h-1zM394 522h1v1h-1zM395 520h1v1h-1zM396 519h1v1h-1zM397 518h1v1h-1zM398 517h1v1h-1zM399 515h1v2h-1zM400 514h1v1h-1zM401 513h1v2h-1zM402 510h1v3h-1zM403 508h1v2h-1zM404 505h1v3h-1zM405 501h1v4h-1zM406 496h1v5h-1zM407 492h1v4h-1zM408 487h1v5h-1zM409 483h1v4h-1zM410 480h1v3h-1zM411 476h1v4h-1zM412 473h1v3h-1zM413 471h1v2h-1zM414 470h1v1h-1zM415 470h1v1h-1zM416 469h1v1h-1zM417 469h1v1h-1zM418 469h1v1h-1zM419 470h1v1h-1zM420 470h1v1h-1zM421 471h1v1h-1zM422 471h1v1h-1zM423 472h1v1h-1zM424 472h1v1h-1zM425 473h1v1h-1zM426 473h1v1h-1zM427 473h1v1h-1zM428 473h1v1h-1zM429 473h1v1h-1zM430 473h1v1h-1zM431 473h1v1h-1zM432 473h1v1h-1zM433 473h1v1h-1zM434 472h1v1h-1zM435 472h1v1h-1zM436 472h1v1h-1zM437 472h1v1h-1zM438 472h1v1h-1zM439 471h1v1h-1zM440 471h1v1h-1zM441 471h1v1h-1zM442 471h1v1h-1zM443 471h1v1h-1zM444 471h1v1h-1zM445 471h1v1h-1zM446 471h1v1h-1zM447 472h1v1h-1zM448 472h1v1h-1zM449 473h1v1h-1zM450 473h1v1h-1zM451 473h1v1h-1zM452 473h1v1h-1zM453 474h1v1h-1zM454 474h1v1h-1zM455 475h1v1h-1zM456 475h1v1h-1zM457 475h1v1h-1zM458 476h1v1h-1zM459 477h1v1h-1zM460 478h1v1h-1zM461 478h1v2h-1zM462 480h1v3h-1zM463 483h1v2h-1zM464 485h1v3h-1zM465 488h1v3h-1zM466 491h1v4h-1zM467 495h1v4h-1zM468 499h1v4h-1zM469 503h1v2h-1zM470 505h1v1h-1zM471 506h1v1h-1zM472 507h1v2h-1zM473 509h1v1h-1zM474 510h1v1h-1zM475 510h1v1h-1zM476 510h1v1h-1zM477 511h1v1h-1zM478 509h1v2h-1zM479 508h1v1h-1zM480 506h1v2h-1zM481 505h1v3h-1zM482 508h1v4h-1zM483 512h1v5h-1zM484 517h1v4h-1zM485 521h1v3h-1zM486 524h1v1h-1zM487 525h1v1h-1zM488 526h1v1h-1zM489 526h1v1h-1zM490 527h1v1h-1zM491 527h1v1h-1zM492 527h1v1h-1zM493 527h1v1h-1zM494 524h1v3h-1zM495 523h1v1h-1zM496 520h1v3h-1zM497 518h1v2h-1zM498 515h1v3h-1zM499 512h1v3h-1zM500 509h1v3h-1zM501 507h1v2h-1zM502 506h1v1h-1zM503 506h1v1h-1zM504 505h1v1h-1zM505 504h1v1h-1zM506 503h1v1h-1zM507 502h1v1h-1zM508 501h1v1h-1zM509 500h1v1h-1zM510 501h1v1h-1zM511 502h1v1h-1zM512 503h1v1h-1zM513 504h1v1h-1zM514 503h1v1h-1zM515 503h1v1h-1zM516 502h1v1h-1zM517 502h1v1h-1zM518 502h1v1h-1zM519 501h1v1h-1zM520 501h1v1h-1zM521 501h1v1h-1zM522 500h1v1h-1zM523 500h1v1h-1zM524 500h1v1h-1zM525 498h1v2h-1zM526 495h1v3h-1zM527 493h1v2h-1zM528 490h1v3h-1zM529 487h1v3h-1zM530 484h1v3h-1zM531 480h1v4h-1zM532 477h1v3h-1zM533 475h1v2h-1zM534 476h1v1h-1zM535 477h1v1h-1zM536 478h1v1h-1zM537 480h1v1h-1zM538 480h1v1h-1zM539 481h1v1h-1zM540 482h1v1h-1zM541 482h1v1h-1zM542 482h1v1h-1zM543 481h1v1h-1zM544 480h1v1h-1zM545 480h1v1h-1zM546 479h1v1h-1zM547 478h1v1h-1zM548 478h1v1h-1zM549 477h1v1h-1zM550 477h1v1h-1zM551 476h1v1h-1zM552 476h1v1h-1zM553 476h1v1h-1zM554 476h1v1h-1zM555 477h1v1h-1zM556 477h1v1h-1zM557 478h1v1h-1zM558 476h1v1h-1zM559 475h1v1h-1zM560 474h1v1h-1zM561 473h1v1h-1zM562 473h1v1h-1zM563 472h1v1h-1zM564 472h1v1h-1zM565 471h1v1h-1zM566 470h1v1h-1zM567 470h1v1h-1zM568 469h1v1h-1zM569 469h1v4h-1zM570 473h1v6h-1zM571 479h1v6h-1zM572 485h1v6h-1zM573 491h1v5h-1zM574 496h1v3h-1zM575 499h1v4h-1zM576 502h1v3h-1zM577 505h1v2h-1zM578 507h1v3h-1zM579 510h1v1h-1zM580 512h1v3h-1zM581 513h1v3h-1zM582 509h1v4h-1zM583 504h1v5h-1zM584 500h1v4h-1zM585 495h1v2h-1zM585 498h1v2h-1zM586 491h1v4h-1zM587 488h1v3h-1zM588 484h1v4h-1zM589 482h1v2h-1zM590 481h1v1h-1zM591 479h1v2h-1zM592 478h1v1h-1zM593 478h1v1h-1zM594 477h1v1h-1zM595 476h1v1h-1zM596 476h1v1h-1zM597 475h1v1h-1zM598 476h1v2h-1zM599 478h1v2h-1zM600 480h1v2h-1zM601 482h1v2h-1zM602 484h1v3h-1zM603 487h1v4h-1zM604 491h1v3h-1zM605 494h1v4h-1zM606 498h1v5h-1zM607 503h1v5h-1zM608 508h1v5h-1zM609 513h1v4h-1zM610 517h1v2h-1zM611 519h1v3h-1zM612 522h1v2h-1zM613 524h1v2h-1zM614 524h1v1h-1zM615 522h1v2h-1zM616 521h1v1h-1zM617 519h1v2h-1zM618 516h1v3h-1zM619 512h1v4h-1zM620 508h1v2h-1zM620 511h1v1h-1zM621 506h1v2h-1zM622 504h1v2h-1zM623 502h1v2h-1zM624 500h1v2h-1zM625 499h1v1h-1zM626 500h1v2h-1zM627 502h1v2h-1zM628 504h1v2h-1zM629 506h1v1h-1zM630 507h1v2h-1zM631 509h1v1h-1zM632 510h1v2h-1zM633 512h1v1h-1zM634 512h1v1h-1zM635 512h1v1h-1zM636 511h1v1h-1zM637 511h1v1h-1zM638 510h1v1h-1zM639 509h1v1h-1zM640 508h1v1h-1zM641 507h1v1h-1zM642 505h1v2h-1zM643 504h1v1h-1zM644 502h1v2h-1zM645 501h1v1h-1zM646 498h1v3h-1zM647 497h1v1h-1zM648 493h1v3h-1zM649 491h1v2h-1zM650 488h1v3h-1zM651 487h1v1h-1zM652 484h1v3h-1zM653 482h1v2h-1zM654 481h1v1h-1zM655 480h1v1h-1zM656 480h1v1h-1zM657 479h1v1h-1zM658 478h1v1h-1zM659 477h1v1h-1zM660 476h1v1h-1zM661 475h1v1h-1zM662 475h1v1h-1zM663 475h1v1h-1zM664 475h1v1h-1zM665 475h1v1h-1zM666 475h1v1h-1zM667 475h1v1h-1zM668 474h1v1h-1zM669 474h1v1h-1zM670 474h1v1h-1zM671 474h1v1h-1zM672 475h1v1h-1zM673 475h1v1h-1zM674 475h1v1h-1zM675 475h1v1h-1zM676 475h1v1h-1zM677 475h1v1h-1zM678 475h1v1h-1zM679 476h1v1h-1zM680 476h1v1h-1zM681 477h1v1h-1zM682 478h1v2h-1zM683 480h1v1h-1zM684 481h1v2h-1zM685 483h1v1h-1zM686 484h1v1h-1zM687 485h1v2h-1zM688 487h1v1h-1zM689 488h1v1h-1zM690 489h1v3h-1zM691 492h1v1h-1zM692 493h1v3h-1zM693 496h1v1h-1zM694 495h1v1h-1zM695 493h1v2h-1zM696 492h1v1h-1zM697 491h1v1h-1zM698 490h1v1h-1zM699 490h1v1h-1zM700 490h1v1h-1zM701 489h1v2h-1zM702 487h1v2h-1zM703 484h1v3h-1zM704 482h1v2h-1zM705 480h1v2h-1zM706 478h1v1h-1zM707 477h1v1h-1zM708 476h1v1h-1zM709 475h1v1h-1zM710 475h1v1h-1zM711 474h1v1h-1zM712 473h1v1h-1zM713 473h1v1h-1zM714 472h1v1h-1zM715 471h1v1h-1zM716 471h1v1h-1zM717 470h1v1h-1zM718 471h1v1h-1zM719 472h1v1h-1zM720 473h1v1h-1zM721 474h1v1h-1zM722 474h1v1h-1zM723 474h1v1h-1zM724 474h1v1h-1zM725 474h1v1h-1zM726 475h1v2h-1zM727 477h1v1h-1zM728 478h1v2h-1zM729 480h1v2h-1zM730 482h1v3h-1zM731 485h1v2h-1zM732 487h1v3h-1zM733 490h1v2h-1zM734 492h1v3h-1zM735 495h1v1h-1zM736 496h1v3h-1zM737 499h1v1h-1zM738 500h1v1h-1zM739 501h1v1h-1zM740 502h1v1h-1zM741 502h1v1h-1zM742 503h1v1h-1zM743 503h1v1h-1zM744 503h1v1h-1zM745 503h1v3h-1zM746 506h1v5h-1zM747 511h1v4h-1zM748 515h1v5h-1zM749 520h1v3h-1zM750 523h1v2h-1zM751 525h1v2h-1zM752 527h1v2h-1zM753 529h1v1h-1zM754 529h1v1h-1zM755 529h1v1h-1zM756 529h1v1h-1zM757 529h1v1h-1zM758 528h1v1h-1zM759 525h1v1h-1zM759 527h1v1h-1zM760 524h1v1h-1zM761 523h1v1h-1zM762 521h1v2h-1zM763 520h1v1h-1zM764 518h1v2h-1zM765 517h1v1h-1zM766 514h1v3h-1zM767 513h1v1h-1zM768 510h1v3h-1zM769 508h1v2h-1zM770 506h1v2h-1zM771 503h1v3h-1zM772 501h1v2h-1zM773 498h1v3h-1zM774 496h1v2h-1zM775 494h1v2h-1zM776 492h1v2h-1zM777 490h1v2h-1zM778 487h1v3h-1zM779 486h1v1h-1zM780 483h1v3h-1zM781 482h1v1h-1zM782 480h1v2h-1zM783 479h1v1h-1zM784 477h1v2h-1zM785 476h1v1h-1zM786 475h1v1h-1zM787 474h1v1h-1zM788 474h1v1h-1zM789 473h1v1h-1zM790 472h1v1h-1zM791 472h1v1h-1zM792 472h1v1h-1zM793 471h1v1h-1zM794 471h1v1h-1zM795 471h1v1h-1zM796 471h1v1h-1zM797 471h1v1h-1zM798 471h1v1h-1zM799 472h1v1h-1zM800 472h1v1h-1zM801 473h1v1h-1zM802 474h1v1h-1zM803 475h1v2h-1zM804 477h1v1h-1zM805 478h1v2h-1zM806 480h1v3h-1zM807 483h1v2h-1zM808 485h1v3h-1zM809 488h1v3h-1zM810 491h1v3h-1zM811 494h1v2h-1zM812 496h1v3h-1zM813 499h1v3h-1zM814 502h1v3h-1zM815 505h1v3h-1zM816 508h1v3h-1zM817 511h1v2h-1zM818 511h1v1h-1zM819 509h1v2h-1zM820 507h1v1h-1zM821 506h1v1h-1zM822 506h1v1h-1zM823 505h1v1h-1zM824 504h1v1h-1zM825 502h1v2h-1zM826 498h1v4h-1zM827 495h1v3h-1zM828 491h1v4h-1zM829 489h1v2h-1zM830 486h1v3h-1zM831 485h1v1h-1zM832 482h1v3h-1zM833 481h1v1h-1zM834 480h1v1h-1zM835 479h1v1h-1zM836 479h1v1h-1zM837 478h1v1h-1zM838 479h1v2h-1zM839 481h1v1h-1zM840 482h1v2h-1zM841 484h1v1h-1zM842 485h1v1h-1zM843 486h1v2h-1zM844 488h1v1h-1zM845 489h1v1h-1zM846 488h1v1h-1zM847 488h1v1h-1zM848 488h1v1h-1zM849 487h1v1h-1zM850 484h1v3h-1zM851 484h1v1h-1zM852 481h1v3h-1zM853 480h1v1h-1zM854 481h1v3h-1zM855 484h1v1h-1zM856 485h1v3h-1zM857 488h1v1h-1zM858 487h1v1h-1zM859 486h1v1h-1zM860 485h1v1h-1zM861 484h1v1h-1zM862 485h1v1h-1zM863 486h1v1h-1zM864 487h1v1h-1zM865 487h1v2h-1zM866 484h1v3h-1zM867 480h1v4h-1zM868 477h1v3h-1zM869 475h1v2h-1zM870 474h1v1h-1zM871 474h1v1h-1zM872 473h1v1h-1zM873 473h1v1h-1zM874 474h1v2h-1zM875 476h1v1h-1zM876 477h1v3h-1zM877 480h1v1h-1zM878 480h1v1h-1zM879 480h1v1h-1zM880 481h1v1h-1zM881 481h1v1h-1zM882 482h1v2h-1zM883 484h1v1h-1zM884 485h1v2h-1zM885 487h1v2h-1zM886 489h1v2h-1zM887 491h1v2h-1zM888 493h1v2h-1zM889 495h1v4h-1zM890 499h1v5h-1zM891 504h1v4h-1zM892 508h1v5h-1zM893 513h1v4h-1zM894 517h1v4h-1zM895 521h1v4h-1zM896 525h1v4h-1zM897 529h1v2h-1zM898 528h1v2h-1zM899 527h1v1h-1zM900 525h1v2h-1zM901 524h1v1h-1zM902 522h1v2h-1zM903 521h1v1h-1zM904 519h1v2h-1zM905 517h1v2h-1zM906 514h1v3h-1zM907 512h1v2h-1zM908 508h1v2h-1zM908 511h1v1h-1zM909 506h1v2h-1zM910 504h1v2h-1zM911 503h1v1h-1zM912 500h1v3h-1zM913 497h1v3h-1zM914 492h1v5h-1zM915 486h1v6h-1zM916 481h1v5h-1zM917 478h1v3h-1zM918 478h1v1h-1zM919 478h1v1h-1zM920 479h1v1h-1zM921 479h1v1h-1zM922 479h1v1h-1zM923 478h1v1h-1zM924 478h1v1h-1zM925 478h1v2h-1zM926 480h1v2h-1zM927 482h1v2h-1zM928 484h1v2h-1zM929 486h1v3h-1zM930 489h1v5h-1zM931 493h1v3h-1zM932 496h1v5h-1zM933 501h1v4h-1zM934 505h1v6h-1zM935 511h1v6h-1zM936 517h1v6h-1zM937 523h1v4h-1zM938 527h1v3h-1zM939 530h1v3h-1zM940 533h1v3h-1zM941 536h1v2h-1zM942 536h1v1h-1zM943 536h1v1h-1zM944 536h1v1h-1zM945 535h1v1h-1zM946 534h1v1h-1zM947 533h1v1h-1zM948 532h1v1h-1zM949 531h1v1h-1zM950 528h1v3h-1zM951 527h1v1h-1zM952 524h1v3h-1zM953 523h1v1h-1zM954 521h1v2h-1zM955 520h1v1h-1zM956 518h1v2h-1zM957 517h1v1h-1zM958 515h1v2h-1zM959 513h1v2h-1zM960 511h1v2h-1zM961 510h1v1h-1zM962 510h1v1h-1zM963 511h1v1h-1zM964 512h1v1h-1zM965 512h1v1h-1zM966 511h1v1h-1zM967 509h1v2h-1zM968 508h1v1h-1zM969 507h1v1h-1zM970 507h1v1h-1zM971 507h1v1h-1zM972 507h1v1h-1zM973 506h1v2h-1zM974 503h1v3h-1zM975 501h1v2h-1zM976 498h1v3h-1zM977 496h1v2h-1zM978 493h1v3h-1zM979 492h1v1h-1zM980 489h1v3h-1zM981 487h1v2h-1zM982 483h1v4h-1zM983 480h1v3h-1zM984 476h1v4h-1zM985 474h1v2h-1zM986 475h1v1h-1zM987 475h1v1h-1zM988 476h1v1h-1zM989 476h1v1h-1zM990 478h1v1h-1zM991 479h1v2h-1zM992 481h1v1h-1zM993 482h1v2h-1zM994 484h1v3h-1zM995 487h1v2h-1zM996 489h1v3h-1zM997 492h1v4h-1zM998 496h1v4h-1zM999 500h1v5h-1zM1000 505h1v4h-1zM1001 509h1v5h-1zM1002 514h1v4h-1zM1003 518h1v4h-1zM1004 522h1v4h-1zM1005 526h1v3h-1zM1006 524h1v2h-1zM1006 527h1v1h-1zM1007 523h1v1h-1zM1008 520h1v3h-1zM1009 518h1v2h-1zM1010 515h1v3h-1zM1011 513h1v2h-1zM1012 510h1v3h-1zM1013 508h1v2h-1zM1014 505h1v3h-1zM1015 501h1v4h-1zM1016 498h1v3h-1zM1017 496h1v2h-1zM1018 497h1v3h-1zM1019 500h1v1h-1zM1020 501h1v3h-1zM1021 504h1v1h-1zM1022 505h1v2h-1zM1023 507h1v2h-1zM1024 509h1v2h-1zM1025 511h1v2h-1zM1026 513h1v4h-1zM1027 517h1v3h-1zM1028 520h1v4h-1zM1029 524h1v2h-1zM1030 526h1v2h-1zM1031 528h1v1h-1zM1032 529h1v2h-1zM1033 531h1v1h-1zM1034 532h1v1h-1zM1035 532h1v1h-1zM1036 533h1v1h-1zM1037 534h1v1h-1zM1038 534h1v1h-1zM1039 533h1v1h-1zM1040 533h1v1h-1zM1041 532h1v1h-1zM1042 532h1v1h-1zM1043 531h1v1h-1zM1044 531h1v1h-1zM1045 530h1v1h-1zM1046 531h1v1h-1zM1047 532h1v1h-1zM1048 533h1v1h-1zM1049 535h1v1h-1zM1050 534h1v1h-1zM1051 534h1v1h-1zM1052 533h1v1h-1zM1053 533h1v1h-1z" fill="#6495ed"/>
<path d="M5 506h1v1h-1zM6 507h1v2h-1zM7 509h1v1h-1zM8 510h1v2h-1zM9 512h1v1h-1zM10 510h1v2h-1zM11 509h1v1h-1zM12 507h1v2h-1zM13 505h1v2h-1zM14 502h1v3h-1zM15 500h1v2h-1zM16 497h1v3h-1zM17 495h1v2h-1zM18 494h1v1h-1zM19 492h1v2h-1zM20 491h1v1h-1zM21 490h1v1h-1zM22 490h1v1h-1zM23 491h1v1h-1zM24 491h1v1h-1zM25 491h1v1h-1zM26 491h1v1h-1zM27 491h1v1h-1zM28 490h1v1h-1zM29 490h1v1h-1zM30 488h1v2h-1zM31 486h1v2h-1zM32 484h1v2h-1zM33 483h1v1h-1zM34 482h1v1h-1zM35 480h1v2h-1zM36 479h1v1h-1zM37 478h1v1h-1zM38 478h1v1h-1zM39 478h1v1h-1zM40 478h1v1h-1zM41 478h1v1h-1zM42 479h1v1h-1zM43 480h1v2h-1zM44 482h1v1h-1zM45 483h1v2h-1zM46 485h1v2h-1zM47 487h1v3h-1zM48 490h1v2h-1zM49 492h1v2h-1zM50 494h1v2h-1zM51 496h1v1h-1zM52 497h1v2h-1zM53 499h1v1h-1zM54 499h1v1h-1zM55 499h1v1h-1zM56 498h1v1h-1zM57 497h1v2h-1zM58 494h1v3h-1zM59 492h1v2h-1zM60 489h1v3h-1zM61 487h1v2h-1zM62 484h1v3h-1zM63 482h1v1h-1zM64 479h1v3h-1zM65 478h1v1h-1zM66 477h1v1h-1zM67 476h1v1h-1zM68 475h1v1h-1zM69 474h1v1h-1zM70 474h1v1h-1zM71 474h1v1h-1zM72 475h1v1h-1zM73 475h1v1h-1zM74 476h1v1h-1zM75 477h1v1h-1zM76 478h1v1h-1zM77 479h1v1h-1zM78 480h1v2h-1zM79 482h1v1h-1zM80 483h1v2h-1zM81 484h1v1h-1zM82 485h1v1h-1zM83 486h1v1h-1zM84 486h1v1h-1zM85 487h1v1h-1zM86 487h1v1h-1zM87 487h1v1h-1zM88 488h1v1h-1zM89 488h1v1h-1zM90 489h1v1h-1zM91 490h1v1h-1zM92 491h1v1h-1zM93 492h1v1h-1zM94 493h1v2h-1zM95 495h1v2h-1zM96 497h1v2h-1zM97 499h1v1h-1zM98 500h1v1h-1zM99 501h1v1h-1zM100 502h1v1h-1zM101 502h1v1h-1zM102 501h1v2h-1zM103 499h1v2h-1zM104 497h1v2h-1zM105 495h1v2h-1zM106 493h1v2h-1zM107 490h1v3h-1zM108 487h1v2h-1zM109 485h1v2h-1zM110 482h1v3h-1zM111 481h1v1h-1zM112 478h1v3h-1zM113 478h1v1h-1zM114 478h1v1h-1zM115 478h1v1h-1zM116 478h1v1h-1zM117 478h1v1h-1zM118 479h1v1h-1zM119 479h1v1h-1zM120 480h1v1h-1zM121 480h1v1h-1zM122 481h1v1h-1zM123 481h1v1h-1zM124 481h1v1h-1zM125 482h1v1h-1zM126 482h1v1h-1zM127 482h1v1h-1zM128 482h1v1h-1zM129 482h1v1h-1zM130 483h1v1h-1zM131 484h1v2h-1zM132 486h1v1h-1zM133 487h1v2h-1zM134 489h1v3h-1zM135 492h1v3h-1zM136 495h1v3h-1zM137 498h1v3h-1zM138 501h1v2h-1zM139 503h1v3h-1zM140 506h1v2h-1zM141 508h1v1h-1zM142 510h1v2h-1zM143 512h1v1h-1zM144 513h1v2h-1zM145 515h1v1h-1zM146 514h1v1h-1zM147 513h1v1h-1zM148 512h1v1h-1zM149 511h1v1h-1zM150 508h1v3h-1zM151 507h1v1h-1zM152 504h1v3h-1zM153 503h1v1h-1zM154 502h1v1h-1zM155 501h1v1h-1zM156 500h1v1h-1zM157 499h1v1h-1zM158 496h1v3h-1zM159 495h1v1h-1zM160 492h1v3h-1zM161 491h1v1h-1zM162 490h1v1h-1zM163 488h1v2h-1zM164 487h1v1h-1zM165 486h1v1h-1zM166 485h1v1h-1zM167 483h1v2h-1zM168 482h1v1h-1zM169 481h1v1h-1zM170 480h1v1h-1zM171 480h1v1h-1zM172 479h1v1h-1zM173 478h1v1h-1zM174 477h1v1h-1zM175 476h1v1h-1zM176 475h1v1h-1zM177 474h1v1h-1zM178 474h1v1h-1zM179 474h1v1h-1zM180 474h1v1h-1zM181 474h1v1h-1zM182 475h1v1h-1zM183 475h1v1h-1zM184 476h1v1h-1zM185 476h1v1h-1zM186 477h1v1h-1zM187 477h1v1h-1zM188 478h1v1h-1zM189 478h1v1h-1zM190 478h1v1h-1zM191 478h1v1h-1zM192 478h1v1h-1zM193 478h1v1h-1zM194 478h1v1h-1zM195 477h1v1h-1zM196 477h1v1h-1zM197 477h1v1h-1zM198 477h1v1h-1zM199 477h1v1h-1zM200 477h1v1h-1zM201 477h1v1h-1zM202 477h1v1h-1zM203 477h1v1h-1zM204 477h1v1h-1zM205 477h1v1h-1zM206 477h1v1h-1zM207 477h1v1h-1zM208 477h1v1h-1zM209 476h1v1h-1zM210 476h1v1h-1zM211 476h1v1h-1zM212 475h1v1h-1zM213 475h1v1h-1zM214 475h1v1h-1zM215 474h1v1h-1zM216 474h1v1h-1zM217 474h1v1h-1zM218 475h1v2h-1zM219 477h1v1h-1zM220 478h1v2h-1zM221 480h1v2h-1zM222 482h1v3h-1zM223 485h1v2h-1zM223 488h1v2h-1zM224 490h1v3h-1zM225 493h1v4h-1zM226 497h1v4h-1zM227 501h1v5h-1zM228 506h1v4h-1zM229 510h1v4h-1zM230 514h1v3h-1zM231 517h1v2h-1zM232 519h1v3h-1zM233 522h1v2h-1zM234 523h1v1h-1zM235 523h1v1h-1zM236 523h1v1h-1zM237 522h1v2h-1zM238 519h1v2h-1zM239 516h1v3h-1zM240 514h1v2h-1zM241 511h1v3h-1zM242 508h1v3h-1zM243 504h1v4h-1zM244 501h1v3h-1zM245 499h1v2h-1zM246 497h1v2h-1zM247 495h1v2h-1zM248 493h1v2h-1zM249 492h1v1h-1zM250 493h1v1h-1zM251 494h1v1h-1zM252 494h1v1h-1zM253 495h1v2h-1zM254 497h1v3h-1zM255 500h1v4h-1zM256 504h1v3h-1zM257 507h1v2h-1zM257 510h1v1h-1zM258 510h1v1h-1zM258 512h1v1h-1zM259 514h1v1h-1zM259 516h1v1h-1zM260 516h1v1h-1zM260 518h1v1h-1zM261 520h1v1h-1zM262 522h1v2h-1zM263 524h1v2h-1zM264 526h1v2h-1zM265 528h1v1h-1zM266 527h1v1h-1zM267 525h1v2h-1zM268 524h1v1h-1zM269 522h1v2h-1zM270 520h1v2h-1zM271 517h1v3h-1zM272 515h1v2h-1zM273 512h1v3h-1zM274 508h1v4h-1zM275 504h1v4h-1zM276 500h1v4h-1zM277 497h1v3h-1zM278 494h1v3h-1zM279 492h1v2h-1zM280 489h1v3h-1zM281 487h1v2h-1zM282 485h1v2h-1zM283 483h1v2h-1zM284 481h1v2h-1zM285 480h1v1h-1zM286 479h1v1h-1zM287 479h1v1h-1zM288 479h1v1h-1zM289 479h1v1h-1zM290 480h1v1h-1zM291 481h1v1h-1zM292 482h1v1h-1zM293 482h1v1h-1zM294 483h1v2h-1zM295 485h1v1h-1zM296 486h1v2h-1zM297 488h1v2h-1zM298 490h1v2h-1zM299 492h1v2h-1zM300 494h1v2h-1zM301 496h1v2h-1zM302 498h1v3h-1zM303 501h1v1h-1zM304 503h1v3h-1zM305 506h1v1h-1zM306 506h1v1h-1zM307 507h1v1h-1zM308 508h1v1h-1zM309 508h1v1h-1zM310 508h1v1h-1zM311 506h1v2h-1zM312 505h1v1h-1zM313 503h1v2h-1zM314 501h1v2h-1zM315 498h1v3h-1zM316 496h1v2h-1zM317 493h1v3h-1zM318 491h1v2h-1zM319 488h1v3h-1zM320 486h1v2h-1zM321 484h1v2h-1zM322 483h1v1h-1zM323 481h1v2h-1zM324 480h1v1h-1zM325 479h1v1h-1zM326 478h1v1h-1zM327 478h1v1h-1zM328 478h1v1h-1zM329 477h1v1h-1zM330 477h1v1h-1zM331 477h1v1h-1zM332 477h1v1h-1zM333 477h1v1h-1zM334 477h1v1h-1zM335 476h1v1h-1zM336 476h1v1h-1zM337 476h1v1h-1zM338 476h1v1h-1zM339 477h1v1h-1zM340 478h1v1h-1zM341 478h1v1h-1zM342 479h1v2h-1zM343 481h1v1h-1zM344 482h1v2h-1zM345 484h1v2h-1zM346 486h1v3h-1zM347 489h1v4h-1zM348 493h1v3h-1zM349 496h1v3h-1zM350 499h1v4h-1zM351 503h1v3h-1zM352 506h1v4h-1zM353 510h1v3h-1zM354 513h1v3h-1zM355 516h1v1h-1zM355 518h1v1h-1zM356 519h1v3h-1zM357 522h1v2h-1zM358 523h1v1h-1zM359 524h1v1h-1zM360 525h1v1h-1zM361 526h1v1h-1zM362 525h1v1h-1zM363 523h1v2h-1zM364 522h1v1h-1zM365 521h1v1h-1zM366 519h1v2h-1zM367 517h1v2h-1zM368 515h1v2h-1zM369 514h1v1h-1zM370 514h1v1h-1zM371 513h1v1h-1zM372 512h1v1h-1zM373 512h1v1h-1zM374 513h1v2h-1zM375 515h1v2h-1zM376 517h1v2h-1zM377 519h1v1h-1zM378 520h1v1h-1zM379 521h1v1h-1zM380 522h1v1h-1zM381 523h1v1h-1zM382 524h1v1h-1zM383 525h1v1h-1zM384 525h1v1h-1zM385 526h1v1h-1zM386 525h1v1h-1zM387 523h1v2h-1zM388 522h1v1h-1zM389 521h1v1h-1zM390 521h1v1h-1zM391 521h1v1h-1zM392 521h1v1h-1zM393 521h1v1h-1zM394 521h1v1h-1zM395 520h1v1h-1zM396 520h1v1h-1zM397 520h1v1h-1zM398 519h1v1h-1zM399 519h1v1h-1zM400 518h1v1h-1zM401 518h1v1h-1zM402 516h1v2h-1zM403 515h1v1h-1zM404 512h1v1h-1zM404 514h1v1h-1zM405 510h1v2h-1zM406 507h1v3h-1zM407 504h1v3h-1zM408 501h1v3h-1zM409 498h1v3h-1zM410 494h1v4h-1zM411 491h1v3h-1zM412 487h1v4h-1zM413 484h1v3h-1zM414 481h1v3h-1zM415 480h1v1h-1zM416 477h1v3h-1zM417 475h1v2h-1zM418 474h1v1h-1zM419 473h1v1h-1zM420 472h1v1h-1zM421 471h1v1h-1zM422 471h1v1h-1zM423 471h1v1h-1zM424 471h1v1h-1zM425 471h1v1h-1zM426 471h1v1h-1zM427 472h1v1h-1zM428 472h1v1h-1zM429 473h1v1h-1zM430 473h1v1h-1zM431 473h1v1h-1zM432 473h1v1h-1zM433 473h1v1h-1zM434 473h1v1h-1zM435 473h1v1h-1zM436 473h1v1h-1zM437 473h1v1h-1zM438 472h1v1h-1zM439 472h1v1h-1zM440 472h1v1h-1zM441 471h1v1h-1zM442 471h1v1h-1zM443 471h1v1h-1zM444 471h1v1h-1zM445 471h1v1h-1zM446 471h1v1h-1zM447 471h1v1h-1zM448 472h1v1h-1zM449 472h1v1h-1zM450 472h1v1h-1zM451 472h1v1h-1zM452 472h1v1h-1zM453 473h1v1h-1zM454 473h1v1h-1zM455 473h1v1h-1zM456 473h1v1h-1zM457 474h1v1h-1zM458 474h1v1h-1zM459 475h1v1h-1zM460 475h1v1h-1zM461 476h1v1h-1zM462 477h1v1h-1zM463 478h1v2h-1zM464 480h1v1h-1zM465 481h1v2h-1zM466 483h1v2h-1zM467 485h1v3h-1zM468 488h1v2h-1zM469 490h1v3h-1zM470 493h1v2h-1zM471 495h1v3h-1zM472 498h1v2h-1zM473 500h1v2h-1zM474 502h1v3h-1zM475 505h1v1h-1zM476 506h1v3h-1zM477 508h1v1h-1zM478 509h1v1h-1zM479 509h1v1h-1zM480 509h1v1h-1zM481 509h1v1h-1zM482 510h1v1h-1zM483 511h1v1h-1zM484 512h1v1h-1zM485 514h1v1h-1zM486 515h1v1h-1zM487 516h1v2h-1zM488 518h1v1h-1zM489 519h1v1h-1zM490 520h1v2h-1zM491 522h1v2h-1zM492 524h1v2h-1zM493 526h1v1h-1zM494 525h1v1h-1zM495 525h1v1h-1zM496 524h1v1h-1zM497 524h1v1h-1zM498 522h1v2h-1zM499 521h1v1h-1zM500 519h1v2h-1zM501 518h1v1h-1zM502 515h1v3h-1zM503 514h1v1h-1zM504 511h1v3h-1zM505 510h1v1h-1zM506 508h1v2h-1zM507 506h1v2h-1zM508 504h1v2h-1zM509 503h1v1h-1zM510 503h1v1h-1zM511 503h1v1h-1zM512 502h1v1h-1zM513 502h1v1h-1zM514 502h1v1h-1zM515 502h1v1h-1zM516 502h1v1h-1zM517 502h1v1h-1zM518 502h1v1h-1zM519 502h1v1h-1zM520 502h1v1h-1zM521 502h1v1h-1zM522 502h1v1h-1zM523 502h1v1h-1zM524 501h1v1h-1zM525 500h1v1h-1zM526 500h1v1h-1zM527 498h1v2h-1zM528 497h1v1h-1zM529 496h1v1h-1zM530 493h1v3h-1zM531 492h1v1h-1zM532 489h1v3h-1zM533 488h1v1h-1zM534 486h1v2h-1zM535 484h1v2h-1zM536 482h1v2h-1zM537 481h1v1h-1zM538 480h1v1h-1zM539 480h1v1h-1zM540 479h1v1h-1zM541 479h1v1h-1zM542 479h1v1h-1zM543 480h1v1h-1zM544 480h1v1h-1zM545 481h1v1h-1zM546 480h1v1h-1zM547 480h1v1h-1zM548 480h1v1h-1zM549 479h1v1h-1zM550 479h1v1h-1zM551 478h1v1h-1zM552 478h1v1h-1zM553 478h1v1h-1zM554 477h1v1h-1zM555 477h1v1h-1zM556 477h1v1h-1zM557 477h1v1h-1zM558 476h1v1h-1zM559 476h1v1h-1zM560 476h1v1h-1zM561 475h1v1h-1zM562 475h1v1h-1zM563 475h1v1h-1zM564 474h1v1h-1zM565 474h1v1h-1zM566 473h1v1h-1zM567 472h1v1h-1zM568 472h1v1h-1zM569 471h1v1h-1zM570 472h1v2h-1zM571 474h1v2h-1zM572 476h1v2h-1zM573 478h1v2h-1zM574 480h1v3h-1zM575 483h1v3h-1zM576 486h1v3h-1zM577 489h1v4h-1zM578 493h1v4h-1zM579 497h1v4h-1zM580 501h1v4h-1zM581 505h1v3h-1zM582 507h1v1h-1zM583 507h1v1h-1zM584 507h1v1h-1zM585 506h1v1h-1zM586 503h1v3h-1zM587 502h1v1h-1zM588 499h1v3h-1zM589 497h1v2h-1zM590 494h1v3h-1zM591 490h1v4h-1zM592 487h1v3h-1zM593 485h1v2h-1zM594 483h1v2h-1zM595 481h1v2h-1zM596 479h1v2h-1zM597 478h1v1h-1zM598 478h1v1h-1zM599 478h1v1h-1zM600 478h1v1h-1zM601 478h1v1h-1zM602 479h1v2h-1zM603 481h1v1h-1zM604 482h1v2h-1zM605 484h1v2h-1zM606 486h1v4h-1zM607 490h1v3h-1zM608 493h1v4h-1zM609 497h1v3h-1zM610 500h1v3h-1zM611 503h1v4h-1zM612 507h1v3h-1zM613 510h1v2h-1zM614 512h1v3h-1zM615 515h1v1h-1zM616 516h1v3h-1zM617 519h1v1h-1zM618 519h1v1h-1zM619 519h1v1h-1zM620 518h1v1h-1zM621 517h1v2h-1zM622 515h1v2h-1zM623 513h1v2h-1zM624 511h1v2h-1zM625 509h1v2h-1zM626 507h1v2h-1zM627 506h1v1h-1zM628 505h1v1h-1zM629 504h1v1h-1zM630 504h1v1h-1zM631 505h1v1h-1zM632 505h1v1h-1zM633 506h1v1h-1zM634 506h1v1h-1zM635 507h1v1h-1zM636 508h1v1h-1zM637 508h1v1h-1zM638 509h1v1h-1zM639 509h1v1h-1zM640 510h1v1h-1zM641 510h1v1h-1zM642 509h1v1h-1zM643 508h1v1h-1zM644 507h1v1h-1zM645 506h1v1h-1zM646 505h1v1h-1zM647 504h1v1h-1zM648 502h1v2h-1zM649 500h1v2h-1zM650 498h1v2h-1zM651 496h1v2h-1zM652 494h1v2h-1zM653 492h1v2h-1zM654 489h1v3h-1zM655 488h1v1h-1zM656 485h1v3h-1zM657 484h1v1h-1zM658 482h1v2h-1zM659 481h1v1h-1zM660 479h1v2h-1zM661 478h1v1h-1zM662 478h1v1h-1zM663 477h1v1h-1zM664 476h1v1h-1zM665 476h1v1h-1zM666 476h1v1h-1zM667 475h1v1h-1zM668 475h1v1h-1zM669 475h1v1h-1zM670 475h1v1h-1zM671 475h1v1h-1zM672 475h1v1h-1zM673 475h1v1h-1zM674 475h1v1h-1zM675 475h1v1h-1zM676 475h1v1h-1zM677 475h1v1h-1zM678 475h1v1h-1zM679 476h1v1h-1zM680 476h1v1h-1zM681 476h1v1h-1zM682 477h1v1h-1zM683 478h1v1h-1zM684 478h1v1h-1zM685 479h1v1h-1zM686 480h1v1h-1zM687 481h1v1h-1zM688 482h1v1h-1zM689 483h1v1h-1zM690 484h1v2h-1zM691 486h1v1h-1zM692 487h1v2h-1zM693 489h1v1h-1zM694 490h1v1h-1zM695 490h1v1h-1zM696 491h1v1h-1zM697 492h1v1h-1zM698 492h1v1h-1zM699 492h1v1h-1zM700 493h1v1h-1zM701 493h1v1h-1zM702 491h1v2h-1zM703 490h1v1h-1zM704 488h1v2h-1zM705 487h1v1h-1zM706 486h1v1h-1zM707 484h1v2h-1zM708 483h1v1h-1zM709 482h1v1h-1zM710 480h1v2h-1zM711 479h1v1h-1zM712 477h1v2h-1zM713 476h1v1h-1zM714 476h1v1h-1zM715 475h1v1h-1zM716 474h1v1h-1zM717 473h1v1h-1zM718 473h1v1h-1zM719 473h1v1h-1zM720 472h1v1h-1zM721 472h1v1h-1zM722 472h1v1h-1zM723 472h1v1h-1zM724 472h1v1h-1zM725 472h1v1h-1zM726 473h1v1h-1zM727 474h1v1h-1zM728 474h1v1h-1zM729 475h1v1h-1zM730 476h1v1h-1zM730 478h1v1h-1zM731 479h1v1h-1zM732 480h1v2h-1zM733 482h1v1h-1zM734 483h1v3h-1zM735 486h1v1h-1zM736 487h1v3h-1zM737 490h1v1h-1zM738 491h1v3h-1zM739 494h1v1h-1zM740 496h1v3h-1zM741 499h1v1h-1zM742 500h1v1h-1zM743 500h1v1h-1zM744 501h1v1h-1zM745 502h1v1h-1zM746 503h1v3h-1zM747 506h1v1h-1zM748 507h1v3h-1zM749 510h1v1h-1zM750 511h1v3h-1zM751 514h1v1h-1zM752 515h1v3h-1zM753 518h1v1h-1zM754 519h1v1h-1zM754 521h1v2h-1zM755 523h1v1h-1zM756 524h1v3h-1zM757 527h1v1h-1zM758 527h1v1h-1zM759 527h1v1h-1zM760 527h1v1h-1zM761 527h1v1h-1zM762 526h1v1h-1zM763 525h1v1h-1zM764 524h1v1h-1zM765 523h1v1h-1zM766 522h1v1h-1zM767 520h1v2h-1zM768 519h1v1h-1zM769 517h1v2h-1zM770 515h1v2h-1zM771 512h1v3h-1zM772 510h1v2h-1zM773 507h1v3h-1zM774 505h1v2h-1zM775 503h1v2h-1zM776 501h1v2h-1zM777 498h1v3h-1zM778 496h1v2h-1zM779 494h1v2h-1zM780 492h1v2h-1zM781 490h1v2h-1zM782 487h1v3h-1zM783 486h1v1h-1zM784 483h1v3h-1zM785 482h1v1h-1zM786 481h1v1h-1zM787 480h1v1h-1zM788 478h1v2h-1zM789 477h1v1h-1zM790 476h1v1h-1zM791 475h1v1h-1zM792 474h1v1h-1zM793 474h1v1h-1zM794 473h1v1h-1zM795 473h1v1h-1zM796 472h1v1h-1zM797 472h1v1h-1zM798 472h1v1h-1zM799 472h1v1h-1zM800 472h1v1h-1zM801 472h1v1h-1zM802 472h1v1h-1zM803 473h1v1h-1zM804 473h1v1h-1zM805 474h1v1h-1zM806 475h1v2h-1zM807 477h1v1h-1zM808 478h1v2h-1zM809 480h1v2h-1zM810 482h1v2h-1zM811 484h1v2h-1zM812 486h1v2h-1zM813 488h1v3h-1zM814 491h1v3h-1zM815 494h1v2h-1zM816 496h1v3h-1zM817 499h1v2h-1zM818 501h1v2h-1zM819 503h1v1h-1zM820 504h1v2h-1zM821 506h1v1h-1zM822 506h1v1h-1zM823 507h1v1h-1zM824 507h1v1h-1zM825 507h1v1h-1zM826 504h1v3h-1zM827 503h1v1h-1zM828 500h1v3h-1zM829 498h1v2h-1zM830 496h1v2h-1zM831 495h1v1h-1zM832 493h1v2h-1zM833 491h1v2h-1zM834 488h1v3h-1zM835 486h1v1h-1zM836 483h1v3h-1zM837 482h1v1h-1zM838 482h1v1h-1zM839 482h1v1h-1zM840 481h1v1h-1zM841 481h1v1h-1zM842 481h1v1h-1zM843 482h1v1h-1zM844 483h1v1h-1zM845 484h1v1h-1zM846 485h1v1h-1zM847 485h1v1h-1zM848 486h1v1h-1zM849 487h1v1h-1zM850 487h1v1h-1zM851 486h1v1h-1zM852 486h1v1h-1zM853 486h1v1h-1zM854 486h1v1h-1zM855 486h1v1h-1zM856 485h1v1h-1zM857 485h1v1h-1zM858 485h1v1h-1zM859 484h1v1h-1zM860 484h1v1h-1zM861 484h1v1h-1zM862 484h1v1h-1zM863 485h1v1h-1zM864 486h1v1h-1zM865 487h1v1h-1zM866 486h1v1h-1zM867 485h1v1h-1zM868 484h1v1h-1zM869 483h1v1h-1zM870 482h1v1h-1zM871 480h1v1h-1zM872 479h1v1h-1zM873 478h1v1h-1zM874 478h1v1h-1zM875 477h1v1h-1zM876 476h1v1h-1zM877 476h1v1h-1zM878 476h1v1h-1zM879 477h1v1h-1zM880 477h1v1h-1zM881 478h1v1h-1zM882 478h1v1h-1zM883 479h1v2h-1zM884 481h1v1h-1zM885 482h1v1h-1zM886 483h1v2h-1zM887 485h1v1h-1zM888 486h1v2h-1zM889 488h1v2h-1zM890 490h1v2h-1zM891 492h1v2h-1zM892 494h1v2h-1zM893 496h1v3h-1zM894 499h1v5h-1zM895 504h1v3h-1zM896 507h1v5h-1zM897 512h1v1h-1zM897 514h1v1h-1zM898 515h1v2h-1zM899 517h1v3h-1zM900 520h1v2h-1zM901 522h1v2h-1zM902 523h1v1h-1zM903 523h1v1h-1zM904 524h1v1h-1zM905 524h1v1h-1zM906 522h1v2h-1zM907 520h1v2h-1zM908 518h1v2h-1zM909 516h1v2h-1zM910 514h1v2h-1zM911 512h1v2h-1zM912 510h1v2h-1zM913 507h1v3h-1zM914 504h1v3h-1zM915 500h1v4h-1zM916 496h1v2h-1zM916 499h1v1h-1zM917 493h1v3h-1zM918 491h1v2h-1zM919 489h1v2h-1zM920 487h1v2h-1zM921 485h1v2h-1zM922 483h1v2h-1zM923 481h1v2h-1zM924 479h1v2h-1zM925 478h1v1h-1zM926 479h1v1h-1zM927 479h1v1h-1zM928 480h1v1h-1zM929 480h1v1h-1zM930 481h1v3h-1zM931 485h1v1h-1zM932 486h1v3h-1zM933 489h1v2h-1zM934 491h1v5h-1zM935 496h1v3h-1zM936 499h1v5h-1zM937 504h1v4h-1zM938 508h1v4h-1zM939 512h1v4h-1zM940 516h1v4h-1zM941 520h1v4h-1zM942 524h1v2h-1zM943 526h1v3h-1zM944 529h1v2h-1zM945 531h1v2h-1zM946 532h1v1h-1zM947 533h1v1h-1zM948 534h1v1h-1zM949 535h1v1h-1zM950 534h1v1h-1zM951 532h1v2h-1zM952 531h1v1h-1zM953 530h1v1h-1zM954 528h1v2h-1zM955 526h1v1h-1zM956 524h1v2h-1zM957 523h1v1h-1zM958 521h1v2h-1zM959 519h1v2h-1zM960 518h1v2h-1zM961 517h1v1h-1zM962 516h1v1h-1zM963 515h1v1h-1zM964 514h1v1h-1zM965 513h1v1h-1zM966 512h1v1h-1zM967 511h1v1h-1zM968 511h1v1h-1zM969 510h1v1h-1zM970 510h1v1h-1zM971 509h1v1h-1zM972 509h1v1h-1zM973 508h1v1h-1zM974 508h1v1h-1zM975 506h1v2h-1zM976 505h1v1h-1zM977 504h1v1h-1zM978 501h1v1h-1zM978 503h1v1h-1zM979 500h1v1h-1zM980 498h1v2h-1zM981 496h1v2h-1zM982 493h1v3h-1zM983 491h1v2h-1zM984 488h1v3h-1zM985 486h1v2h-1zM986 484h1v2h-1zM987 483h1v1h-1zM988 481h1v2h-1zM989 480h1v1h-1zM990 479h1v1h-1zM991 479h1v1h-1zM992 478h1v1h-1zM993 478h1v1h-1zM994 479h1v2h-1zM995 481h1v1h-1zM996 482h1v2h-1zM997 484h1v2h-1zM998 486h1v3h-1zM999 489h1v3h-1zM1000 492h1v3h-1zM1001 495h1v3h-1zM1002 498h1v4h-1zM1003 502h1v4h-1zM1004 506h1v4h-1zM1005 510h1v3h-1zM1006 513h1v2h-1zM1007 515h1v2h-1zM1008 517h1v2h-1zM1009 519h1v2h-1zM1010 519h1v1h-1zM1011 519h1v1h-1zM1012 519h1v1h-1zM1013 517h1v2h-1zM1014 515h1v2h-1zM1015 512h1v3h-1zM1016 510h1v2h-1zM1017 508h1v2h-1zM1018 507h1v2h-1zM1019 506h1v1h-1zM1020 504h1v2h-1zM1021 503h1v1h-1zM1022 503h1v1h-1zM1023 503h1v1h-1zM1024 503h1v1h-1zM1025 504h1v2h-1zM1026 506h1v2h-1zM1027 508h1v2h-1zM1028 510h1v2h-1zM1029 512h1v3h-1zM1030 515h1v2h-1zM1031 517h1v3h-1zM1032 520h1v2h-1zM1033 522h1v2h-1zM1034 524h1v2h-1zM1035 526h1v2h-1zM1036 528h1v2h-1zM1037 530h1v1h-1zM1038 531h1v1h-1zM1039 532h1v1h-1zM1040 532h1v1h-1zM1041 533h1v1h-1zM1042 533h1v1h-1zM1043 532h1v1h-1zM1044 532h1v1h-1zM1045 532h1v1h-1zM1046 532h1v1h-1zM1047 532h1v1h-1zM1048 533h1v1h-1zM1049 533h1v1h-1zM1050 533h1v1h-1zM1051 533h1v1h-1zM1052 533h1v1h-1zM1053 533h1v1h-1z" fill="#ff0000"/>
</svg>
<svg width="1280" height="567" viewBox="0 0 1280 567"><defs><filter id="bl" x="-5%" y="-20%" width="110%" height="140%"><feGaussianBlur stdDeviation="0.55"/></filter></defs><g filter="url(#bl)" font-family="Liberation Sans">
<text transform="translate(47.2,360.6) scale(1.25,1)" font-size="46" fill="#fff" stroke="#fff" stroke-width="2.8000000000000003" stroke-linejoin="round">e</text>
<text transform="translate(74.25,360.6) scale(1.375,1)" font-size="46" fill="#fff" stroke="#fff" stroke-width="2.8000000000000003" stroke-linejoin="round">c</text>
<text transform="translate(101.72,360.6) scale(1.291,1)" font-size="46" fill="#fff" stroke="#fff" stroke-width="2.8000000000000003" stroke-linejoin="round">o</text>
<text transform="translate(131.94,360.6) scale(1.188,1)" font-size="46" fill="#fff" stroke="#fff" stroke-width="2.8000000000000003" stroke-linejoin="round">n</text>
<text transform="translate(160.39,360.6) scale(1.255,1)" font-size="46" fill="#fff" stroke="#fff" stroke-width="2.8000000000000003" stroke-linejoin="round">o</text>
<text transform="translate(190.77,360.6) scale(1.142,1)" font-size="46" fill="#fff" stroke="#fff" stroke-width="2.8000000000000003" stroke-linejoin="round">m</text>
<text transform="translate(229.5,360.6) scale(1.25,1)" font-size="46" fill="#fff" stroke="#fff" stroke-width="2.8000000000000003" stroke-linejoin="round">i</text>
<text transform="translate(238.96,360.6) scale(1.218,1)" font-size="46" fill="#fff" stroke="#fff" stroke-width="2.8000000000000003" stroke-linejoin="round">e</text>
<text transform="translate(267.5,360.6) scale(1.2,1)" font-size="46" fill="#fff" stroke="#fff" stroke-width="2.8000000000000003" stroke-linejoin="round">s</text>
<text transform="translate(293.5,359.6) scale(1.0,1)" font-size="46" fill="#fff" stroke="#fff" stroke-width="2.2" stroke-linejoin="round">.</text>
<text transform="translate(299.7,359.6) scale(1.3,1)" font-size="46" fill="#fff" stroke="#fff" stroke-width="2.2" stroke-linejoin="round">c</text>
<text transform="translate(326.39,359.6) scale(1.255,1)" font-size="46" fill="#fff" stroke="#fff" stroke-width="2.2" stroke-linejoin="round">o</text>
<text transform="translate(353.83,359.6) scale(1.056,1)" font-size="46" fill="#fff" stroke="#fff" stroke-width="2.2" stroke-linejoin="round">m</text>
<text transform="translate(86.26,399.6) scale(0.981,1)" font-size="41" font-weight="bold" fill="#fff" stroke="#fff" stroke-width="1.4" stroke-linejoin="round">F</text>
<text transform="translate(134.15,399.6) scale(1.217,1)" font-size="41" font-weight="bold" fill="#fff" stroke="#fff" stroke-width="1.4" stroke-linejoin="round">N</text>
<text transform="translate(169.14,399.6) scale(0.965,1)" font-size="41" fill="#fff" stroke="#fff" stroke-width="2.0" stroke-linejoin="round">e</text>
<text transform="translate(189.9,399.6) scale(0.983,1)" font-size="41" fill="#fff" stroke="#fff" stroke-width="2.0" stroke-linejoin="round">w</text>
<text transform="translate(218.9,399.6) scale(0.9,1)" font-size="41" fill="#fff" stroke="#fff" stroke-width="2.0" stroke-linejoin="round">s</text>
<text transform="translate(235.9,399.6) scale(1.016,1)" font-size="41" font-weight="bold" fill="#fff" stroke="#fff" stroke-width="1.4" stroke-linejoin="round">T</text>
<text transform="translate(258.88,399.6) scale(1.115,1)" font-size="41" fill="#fff" stroke="#fff" stroke-width="2.0" stroke-linejoin="round">o</text>
<text transform="translate(283.82,399.6) scale(0.88,1)" font-size="41" fill="#fff" stroke="#fff" stroke-width="2.0" stroke-linejoin="round">d</text>
<text transform="translate(304.37,399.6) scale(0.827,1)" font-size="41" fill="#fff" stroke="#fff" stroke-width="2.0" stroke-linejoin="round">a</text>
<text transform="translate(325.1,399.6) scale(0.976,1)" font-size="41" fill="#fff" stroke="#fff" stroke-width="2.0" stroke-linejoin="round">y</text>
<path d="M111.4 377.2L120.9 386L131.4 376.8" stroke="#f5e3e3" stroke-width="3.2" fill="none"/><path d="M113.9 396.5L125.9 387.4L134.5 396.2" stroke="#e4f0e4" stroke-width="3.2" fill="none"/>
<text transform="translate(47.2,360.6) scale(1.25,1)" font-size="46" fill="#fcd8c0" stroke="#fcd8c0" stroke-width="0.6">e</text>
<text transform="translate(74.25,360.6) scale(1.375,1)" font-size="46" fill="#fcd8c0" stroke="#fcd8c0" stroke-width="0.6">c</text>
<text transform="translate(101.72,360.6) scale(1.291,1)" font-size="46" fill="#fcd8c0" stroke="#fcd8c0" stroke-width="0.6">o</text>
<text transform="translate(131.94,360.6) scale(1.188,1)" font-size="46" fill="#fcd8c0" stroke="#fcd8c0" stroke-width="0.6">n</text>
<text transform="translate(160.39,360.6) scale(1.255,1)" font-size="46" fill="#fcd8c0" stroke="#fcd8c0" stroke-width="0.6">o</text>
<text transform="translate(190.77,360.6) scale(1.142,1)" font-size="46" fill="#fcd8c0" stroke="#fcd8c0" stroke-width="0.6">m</text>
<text transform="translate(229.5,360.6) scale(1.25,1)" font-size="46" fill="#fcd8c0" stroke="#fcd8c0" stroke-width="0.6">i</text>
<text transform="translate(238.96,360.6) scale(1.218,1)" font-size="46" fill="#fcd8c0" stroke="#fcd8c0" stroke-width="0.6">e</text>
<text transform="translate(267.5,360.6) scale(1.2,1)" font-size="46" fill="#fcd8c0" stroke="#fcd8c0" stroke-width="0.6">s</text>
<text transform="translate(293.5,359.6) scale(1.0,1)" font-size="46" fill="#dedede" stroke="#fff" stroke-width="1.4">.</text>
<text transform="translate(299.7,359.6) scale(1.3,1)" font-size="46" fill="#dedede" stroke="#fff" stroke-width="1.4">c</text>
<text transform="translate(326.39,359.6) scale(1.255,1)" font-size="46" fill="#dedede" stroke="#fff" stroke-width="1.4">o</text>
<text transform="translate(353.83,359.6) scale(1.056,1)" font-size="46" fill="#dedede" stroke="#fff" stroke-width="1.4">m</text>
<text transform="translate(86.26,399.6) scale(0.981,1)" font-size="41" font-weight="bold" fill="#dedede">F</text>
<text transform="translate(134.15,399.6) scale(1.217,1)" font-size="41" font-weight="bold" fill="#d9d9d9">N</text>
<text transform="translate(169.14,399.6) scale(0.965,1)" font-size="41" fill="#dcdcdc" stroke="#dcdcdc" stroke-width="0.6">e</text>
<text transform="translate(189.9,399.6) scale(0.983,1)" font-size="41" fill="#dcdcdc" stroke="#dcdcdc" stroke-width="0.6">w</text>
<text transform="translate(218.9,399.6) scale(0.9,1)" font-size="41" fill="#dcdcdc" stroke="#dcdcdc" stroke-width="0.6">s</text>
<text transform="translate(235.9,399.6) scale(1.016,1)" font-size="41" font-weight="bold" fill="#dcdcdc">T</text>
<text transform="translate(258.88,399.6) scale(1.115,1)" font-size="41" fill="#dcdcdc" stroke="#dcdcdc" stroke-width="0.6">o</text>
<text transform="translate(283.82,399.6) scale(0.88,1)" font-size="41" fill="#dcdcdc" stroke="#dcdcdc" stroke-width="0.6">d</text>
<text transform="translate(304.37,399.6) scale(0.827,1)" font-size="41" fill="#dcdcdc" stroke="#dcdcdc" stroke-width="0.6">a</text>
<text transform="translate(325.1,399.6) scale(0.976,1)" font-size="41" fill="#dcdcdc" stroke="#dcdcdc" stroke-width="0.6">y</text>
</g></svg>
<svg width="1280" height="567" viewBox="0 0 1280 567" shape-rendering="crispEdges"><path d="M8 11h7l-3.5 4z" fill="#000"/></svg>
<div class="t" style="left:19.4px;top:8px;letter-spacing:-0.22px">XAUUSD,H4</div>
<div class="t" style="left:79.5px;top:8px;letter-spacing:-0.34px">3942.50 3948.30 3886.39 3923.01</div>
<div class="t" style="left:8.7px;top:471px;letter-spacing:-0.37px">Sto(5,3,3) 15.1734 14.4348</div>
<div class="t" style="left:1237.5px;top:28px;">4368.50</div>
<div class="t" style="left:1237.5px;top:61px;">4290.95</div>
<div class="t" style="left:1237.5px;top:94px;">4213.40</div>
<div class="t" style="left:1237.5px;top:127px;">4135.85</div>
<div class="t" style="left:1237.5px;top:193px;">3978.40</div>
<div class="t" style="left:1237.5px;top:226px;">3900.85</div>
<div class="t" style="left:1237.5px;top:259px;">3823.30</div>
<div class="t" style="left:1237.5px;top:292px;">3745.75</div>
<div class="t" style="left:1237.5px;top:325px;">3665.85</div>
<div class="t" style="left:1237.5px;top:358px;">3588.30</div>
<div class="t" style="left:1237.5px;top:391px;">3510.75</div>
<div class="t" style="left:1237.5px;top:424px;">3433.20</div>
<div class="t" style="left:1237.5px;top:457px;">3355.65</div>
<div class="t" style="left:1235.7px;top:469px;">100</div>
<div class="t" style="left:1234.7px;top:479px;">80</div>
<div class="t" style="left:1234.7px;top:524px;">20</div>
<div class="t" style="left:1235.6px;top:533px;">0</div>
<div class="pl" style="top:161px;background:#dc143c;"><span>4050.80</span></div>
<div class="pl" style="top:203px;background:#3cb371;"><span>3950.56</span></div>
<div class="pl" style="top:216px;background:#000;"><span>3923.01</span></div>
<div class="pl" style="top:266px;background:#3cb371;"><span>3801.70</span></div>
<div class="t" style="left:4.3px;top:549px;letter-spacing:-0.36px">27 Aug 2025</div>
<div class="t" style="left:68.3px;top:549px;letter-spacing:-0.36px">1 Sep 04:00</div>
<div class="t" style="left:132.3px;top:549px;letter-spacing:-0.36px">4 Sep 00:00</div>
<div class="t" style="left:196.3px;top:549px;letter-spacing:-0.36px">8 Sep 16:00</div>
<div class="t" style="left:260.3px;top:549px;letter-spacing:-0.36px">11 Sep 08:00</div>
<div class="t" style="left:324.3px;top:549px;letter-spacing:-0.36px">16 Sep 00:00</div>
<div class="t" style="left:388.3px;top:549px;letter-spacing:-0.36px">18 Sep 16:00</div>
<div class="t" style="left:452.3px;top:549px;letter-spacing:-0.36px">23 Sep 08:00</div>
<div class="t" style="left:516.3px;top:549px;letter-spacing:-0.36px">26 Sep 00:00</div>
<div class="t" style="left:580.3px;top:549px;letter-spacing:-0.36px">30 Sep 16:00</div>
<div class="t" style="left:644.3px;top:549px;letter-spacing:-0.36px">3 Oct 08:00</div>
<div class="t" style="left:708.3px;top:549px;letter-spacing:-0.36px">8 Oct 00:00</div>
<div class="t" style="left:772.3px;top:549px;letter-spacing:-0.36px">10 Oct 16:00</div>
<div class="t" style="left:836.3px;top:549px;letter-spacing:-0.36px">15 Oct 08:00</div>
<div class="t" style="left:900.3px;top:549px;letter-spacing:-0.36px">20 Oct 00:00</div>
<div class="t" style="left:964.3px;top:549px;letter-spacing:-0.36px">22 Oct 16:00</div>
<div class="t" style="left:1028.3px;top:549px;letter-spacing:-0.36px">27 Oct 08:00</div>
</body></html>
